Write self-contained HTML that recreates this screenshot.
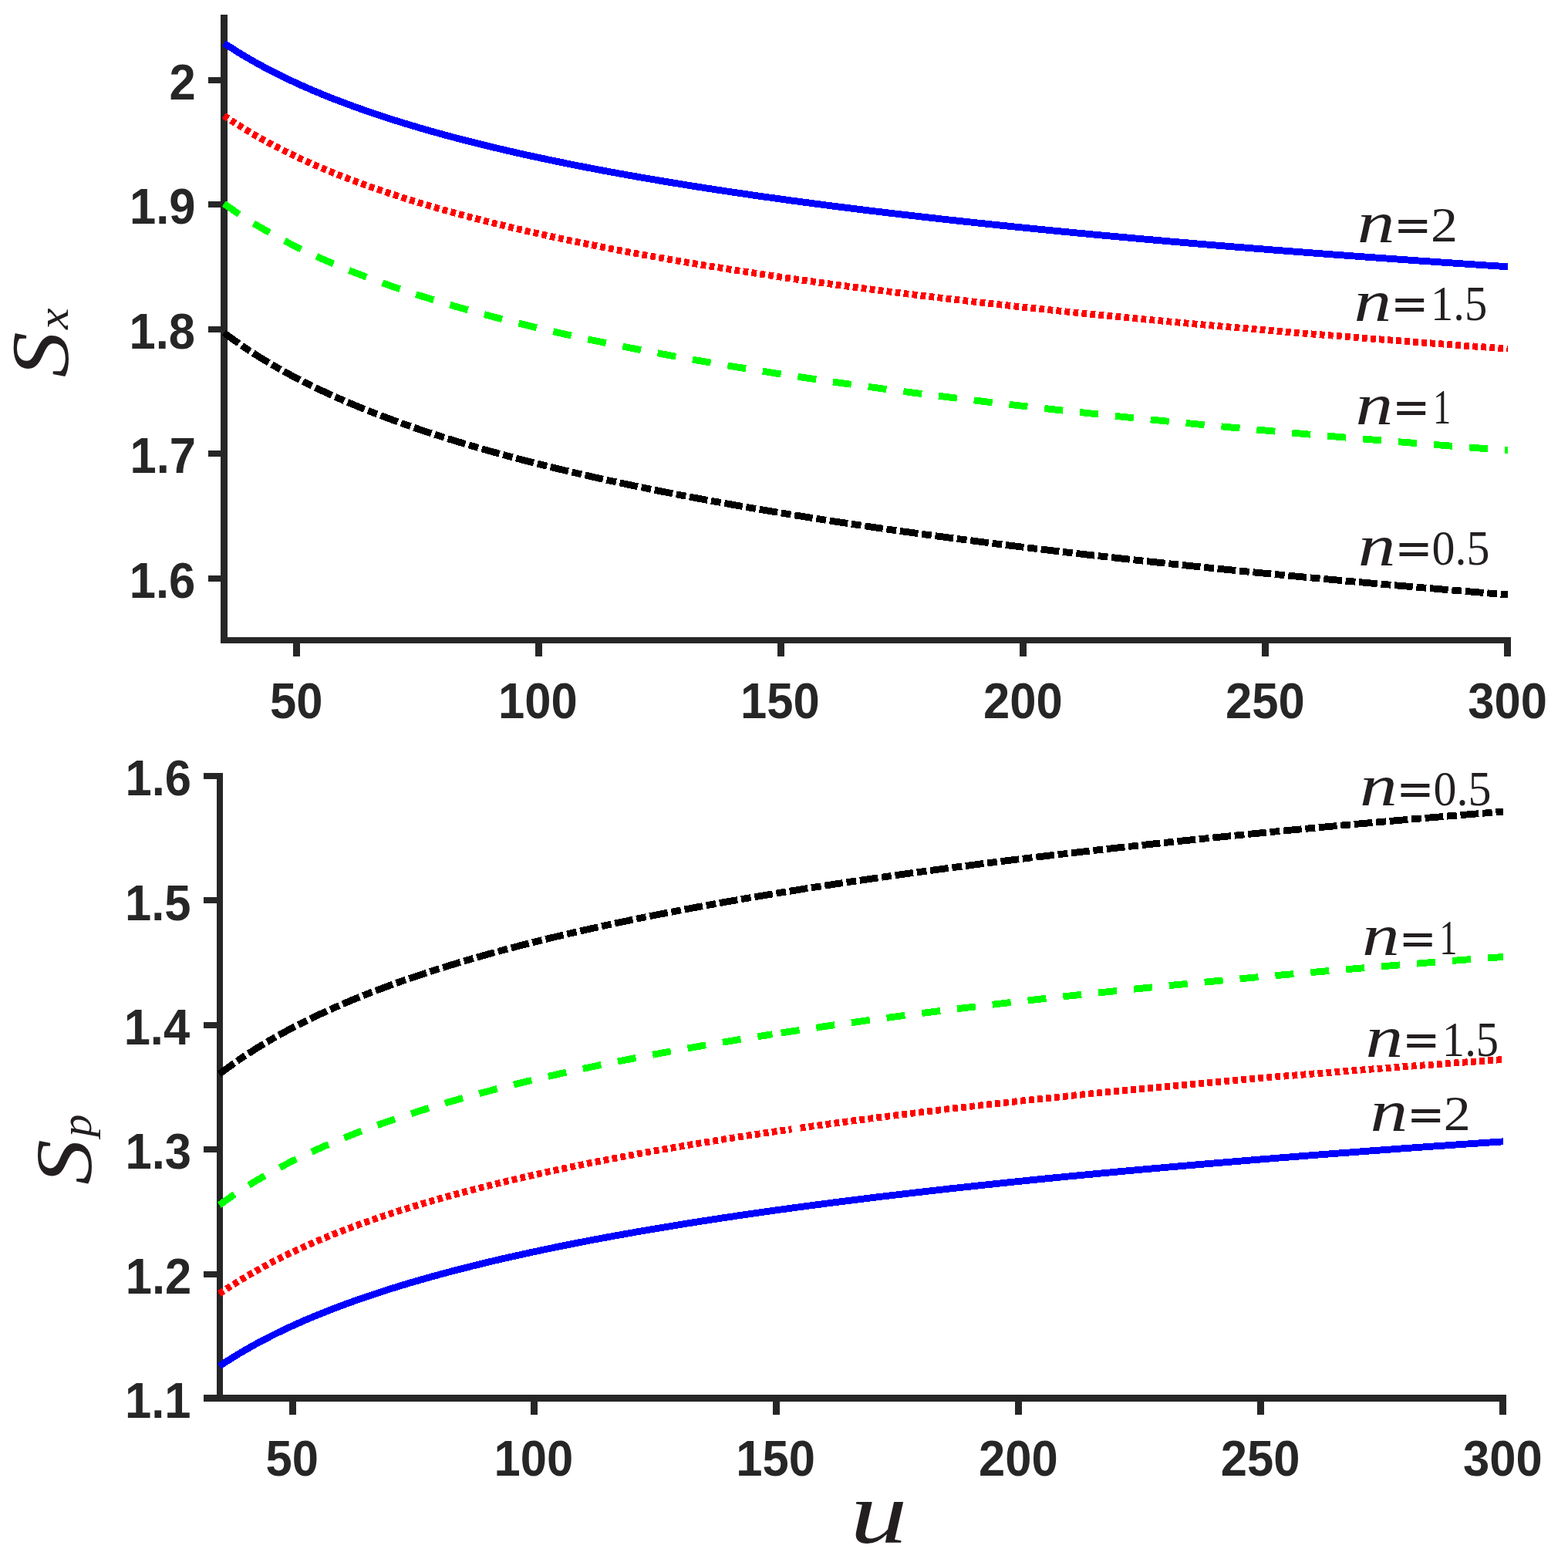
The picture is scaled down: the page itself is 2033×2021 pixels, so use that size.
<!DOCTYPE html>
<html><head><meta charset="utf-8"><title>Sx and Sp versus u</title>
<style>html,body{margin:0;padding:0;background:#fff}svg{display:block}</style></head>
<body><svg xmlns="http://www.w3.org/2000/svg" width="2033" height="2021" viewBox="0 0 2033 2021">
<rect width="2033" height="2021" fill="#fff"/>
<g shape-rendering="crispEdges">
<rect x="286.00" y="19.00" width="9.00" height="815.00" fill="#262626"/>
<rect x="286.00" y="826.00" width="1673.00" height="8.00" fill="#262626"/>
<rect x="270.00" y="100.00" width="16.00" height="8.00" fill="#262626"/>
<rect x="270.00" y="261.00" width="16.00" height="8.00" fill="#262626"/>
<rect x="270.00" y="423.00" width="16.00" height="8.00" fill="#262626"/>
<rect x="270.00" y="584.00" width="16.00" height="8.00" fill="#262626"/>
<rect x="270.00" y="746.00" width="16.00" height="8.00" fill="#262626"/>
<rect x="380.00" y="834.00" width="9.00" height="17.00" fill="#262626"/>
<rect x="694.00" y="834.00" width="9.00" height="17.00" fill="#262626"/>
<rect x="1008.00" y="834.00" width="9.00" height="17.00" fill="#262626"/>
<rect x="1322.00" y="834.00" width="9.00" height="17.00" fill="#262626"/>
<rect x="1636.00" y="834.00" width="9.00" height="17.00" fill="#262626"/>
<rect x="1950.00" y="834.00" width="9.00" height="17.00" fill="#262626"/>
<rect x="281.00" y="1002.00" width="8.00" height="815.00" fill="#262626"/>
<rect x="264.00" y="1808.00" width="1689.00" height="9.00" fill="#262626"/>
<rect x="264.00" y="1002.00" width="17.00" height="8.00" fill="#262626"/>
<rect x="264.00" y="1163.00" width="17.00" height="8.00" fill="#262626"/>
<rect x="264.00" y="1325.00" width="17.00" height="8.00" fill="#262626"/>
<rect x="264.00" y="1486.00" width="17.00" height="8.00" fill="#262626"/>
<rect x="264.00" y="1648.00" width="17.00" height="8.00" fill="#262626"/>
<rect x="264.00" y="1809.00" width="17.00" height="8.00" fill="#262626"/>
<rect x="375.00" y="1817.00" width="9.00" height="17.00" fill="#262626"/>
<rect x="688.00" y="1817.00" width="9.00" height="17.00" fill="#262626"/>
<rect x="1002.00" y="1817.00" width="9.00" height="17.00" fill="#262626"/>
<rect x="1316.00" y="1817.00" width="9.00" height="17.00" fill="#262626"/>
<rect x="1630.00" y="1817.00" width="9.00" height="17.00" fill="#262626"/>
<rect x="1944.00" y="1817.00" width="9.00" height="17.00" fill="#262626"/>
<path d="M290.40,431.24 L293.74,433.76 L297.07,436.24 L300.41,438.69 L303.74,441.09 L307.08,443.46 L310.42,445.79 L313.75,448.09 L317.09,450.35 L320.42,452.59 L323.76,454.79 L327.09,456.96 L330.43,459.10 L333.77,461.21 L337.10,463.30 L340.44,465.35 L343.77,467.38 L347.11,469.38 L350.45,471.36 L353.78,473.32 L357.12,475.24 L360.45,477.15 L363.79,479.03 L367.13,480.89 L370.46,482.73 L373.80,484.54 L377.13,486.34 L380.47,488.11 L383.80,489.87 L387.14,491.60 L390.48,493.31 L393.81,495.01 L397.15,496.69 L400.48,498.35 L403.82,499.99 L407.16,501.61 L410.49,503.22 L413.83,504.81 L417.16,506.39 L420.50,507.95 L423.83,509.49 L427.17,511.02 L430.51,512.53 L433.84,514.03 L437.18,515.51 L440.51,516.98 L443.85,518.44 L447.19,519.88 L450.52,521.31 L453.86,522.72 L457.19,524.13 L460.53,525.51 L463.87,526.89 L467.20,528.26 L470.54,529.61 L473.87,530.95 L477.21,532.28 L480.54,533.60 L483.88,534.90 L487.22,536.20 L490.55,537.48 L493.89,538.76 L497.22,540.02 L500.56,541.27 L503.90,542.51 L507.23,543.75 L510.57,544.97 L513.90,546.18 L517.24,547.39 L520.58,548.58 L523.91,549.76 L527.25,550.94 L530.58,552.11 L533.92,553.26 L537.25,554.41 L540.59,555.55 L543.93,556.69 L547.26,557.81 L550.60,558.92 L553.93,560.03 L557.27,561.13 L560.61,562.22 L563.94,563.30 L567.28,564.38 L570.61,565.45 L573.95,566.51 L577.28,567.56 L580.62,568.61 L583.96,569.65 L587.29,570.68 L590.63,571.70 L593.96,572.72 L597.30,573.73 L600.64,574.74 L603.97,575.73 L607.31,576.72 L610.64,577.71 L613.98,578.69 L617.32,579.66 L620.65,580.62 L623.99,581.58 L627.32,582.54 L630.66,583.49 L633.99,584.43 L637.33,585.36 L640.67,586.29 L644.00,587.22 L647.34,588.14 L650.67,589.05 L654.01,589.96 L657.35,590.86 L660.68,591.76 L664.02,592.65 L667.35,593.53 L670.69,594.42 L674.03,595.29 L677.36,596.16 L680.70,597.03 L684.03,597.89 L687.37,598.75 L690.70,599.60 L694.04,600.44 L697.38,601.29 L700.71,602.12 L704.05,602.96 L707.38,603.78 L710.72,604.61 L714.06,605.43 L717.39,606.24 L720.73,607.05 L724.06,607.86 L727.40,608.66 L730.74,609.45 L734.07,610.25 L737.41,611.04 L740.74,611.82 L744.08,612.60 L747.41,613.38 L750.75,614.15 L754.09,614.92 L757.42,615.68 L760.76,616.44 L764.09,617.20 L767.43,617.95 L770.77,618.70 L774.10,619.45 L777.44,620.19 L780.77,620.93 L784.11,621.67 L787.44,622.40 L790.78,623.12 L794.12,623.85 L797.45,624.57 L800.79,625.29 L804.12,626.00 L807.46,626.71 L810.80,627.42 L814.13,628.12 L817.47,628.82 L820.80,629.52 L824.14,630.21 L827.48,630.90 L830.81,631.59 L834.15,632.27 L837.48,632.96 L840.82,633.63 L844.15,634.31 L847.49,634.98 L850.83,635.65 L854.16,636.32 L857.50,636.98 L860.83,637.64 L864.17,638.30 L867.51,638.95 L870.84,639.60 L874.18,640.25 L877.51,640.90 L880.85,641.54 L884.19,642.18 L887.52,642.82 L890.86,643.45 L894.19,644.08 L897.53,644.71 L900.86,645.34 L904.20,645.97 L907.54,646.59 L910.87,647.21 L914.21,647.82 L917.54,648.44 L920.88,649.05 L924.22,649.66 L927.55,650.26 L930.89,650.87 L934.22,651.47 L937.56,652.07 L940.89,652.67 L944.23,653.26 L947.57,653.85 L950.90,654.44 L954.24,655.03 L957.57,655.61 L960.91,656.20 L964.25,656.78 L967.58,657.36 L970.92,657.93 L974.25,658.51 L977.59,659.08 L980.93,659.65 L984.26,660.21 L987.60,660.78 L990.93,661.34 L994.27,661.90 L997.60,662.46 L1000.94,663.02 L1004.28,663.57 L1007.61,664.13 L1010.95,664.68 L1014.28,665.22 L1017.62,665.77 L1020.96,666.32 L1024.29,666.86 L1027.63,667.40 L1030.96,667.94 L1034.30,668.47 L1037.64,669.01 L1040.97,669.54 L1044.31,670.07 L1047.64,670.60 L1050.98,671.13 L1054.31,671.65 L1057.65,672.18 L1060.99,672.70 L1064.32,673.22 L1067.66,673.74 L1070.99,674.25 L1074.33,674.77 L1077.67,675.28 L1081.00,675.79 L1084.34,676.30 L1087.67,676.81 L1091.01,677.31 L1094.35,677.82 L1097.68,678.32 L1101.02,678.82 L1104.35,679.32 L1107.69,679.81 L1111.02,680.31 L1114.36,680.80 L1117.70,681.29 L1121.03,681.79 L1124.37,682.27 L1127.70,682.76 L1131.04,683.25 L1134.38,683.73 L1137.71,684.21 L1141.05,684.69 L1144.38,685.17 L1147.72,685.65 L1151.05,686.13 L1154.39,686.60 L1157.73,687.08 L1161.06,687.55 L1164.40,688.02 L1167.73,688.49 L1171.07,688.96 L1174.41,689.42 L1177.74,689.89 L1181.08,690.35 L1184.41,690.81 L1187.75,691.27 L1191.09,691.73 L1194.42,692.19 L1197.76,692.64 L1201.09,693.10 L1204.43,693.55 L1207.76,694.00 L1211.10,694.45 L1214.44,694.90 L1217.77,695.35 L1221.11,695.79 L1224.44,696.24 L1227.78,696.68 L1231.12,697.12 L1234.45,697.57 L1237.79,698.01 L1241.12,698.44 L1244.46,698.88 L1247.80,699.32 L1251.13,699.75 L1254.47,700.18 L1257.80,700.62 L1261.14,701.05 L1264.47,701.48 L1267.81,701.90 L1271.15,702.33 L1274.48,702.76 L1277.82,703.18 L1281.15,703.60 L1284.49,704.03 L1287.83,704.45 L1291.16,704.87 L1294.50,705.29 L1297.83,705.70 L1301.17,706.12 L1304.51,706.53 L1307.84,706.95 L1311.18,707.36 L1314.51,707.77 L1317.85,708.18 L1321.18,708.59 L1324.52,709.00 L1327.86,709.41 L1331.19,709.81 L1334.53,710.22 L1337.86,710.62 L1341.20,711.02 L1344.54,711.42 L1347.87,711.82 L1351.21,712.22 L1354.54,712.62 L1357.88,713.02 L1361.21,713.42 L1364.55,713.81 L1367.89,714.20 L1371.22,714.60 L1374.56,714.99 L1377.89,715.38 L1381.23,715.77 L1384.57,716.16 L1387.90,716.55 L1391.24,716.93 L1394.57,717.32 L1397.91,717.70 L1401.25,718.09 L1404.58,718.47 L1407.92,718.85 L1411.25,719.23 L1414.59,719.61 L1417.92,719.99 L1421.26,720.37 L1424.60,720.75 L1427.93,721.12 L1431.27,721.50 L1434.60,721.87 L1437.94,722.24 L1441.28,722.62 L1444.61,722.99 L1447.95,723.36 L1451.28,723.73 L1454.62,724.10 L1457.96,724.46 L1461.29,724.83 L1464.63,725.19 L1467.96,725.56 L1471.30,725.92 L1474.63,726.29 L1477.97,726.65 L1481.31,727.01 L1484.64,727.37 L1487.98,727.73 L1491.31,728.09 L1494.65,728.45 L1497.99,728.80 L1501.32,729.16 L1504.66,729.51 L1507.99,729.87 L1511.33,730.22 L1514.66,730.57 L1518.00,730.93 L1521.34,731.28 L1524.67,731.63 L1528.01,731.98 L1531.34,732.32 L1534.68,732.67 L1538.02,733.02 L1541.35,733.36 L1544.69,733.71 L1548.02,734.05 L1551.36,734.40 L1554.70,734.74 L1558.03,735.08 L1561.37,735.42 L1564.70,735.76 L1568.04,736.10 L1571.37,736.44 L1574.71,736.78 L1578.05,737.12 L1581.38,737.45 L1584.72,737.79 L1588.05,738.12 L1591.39,738.46 L1594.73,738.79 L1598.06,739.13 L1601.40,739.46 L1604.73,739.79 L1608.07,740.12 L1611.41,740.45 L1614.74,740.78 L1618.08,741.11 L1621.41,741.43 L1624.75,741.76 L1628.08,742.09 L1631.42,742.41 L1634.76,742.74 L1638.09,743.06 L1641.43,743.38 L1644.76,743.71 L1648.10,744.03 L1651.44,744.35 L1654.77,744.67 L1658.11,744.99 L1661.44,745.31 L1664.78,745.63 L1668.12,745.94 L1671.45,746.26 L1674.79,746.58 L1678.12,746.89 L1681.46,747.21 L1684.79,747.52 L1688.13,747.84 L1691.47,748.15 L1694.80,748.46 L1698.14,748.77 L1701.47,749.08 L1704.81,749.39 L1708.15,749.70 L1711.48,750.01 L1714.82,750.32 L1718.15,750.63 L1721.49,750.93 L1724.82,751.24 L1728.16,751.55 L1731.50,751.85 L1734.83,752.16 L1738.17,752.46 L1741.50,752.76 L1744.84,753.07 L1748.18,753.37 L1751.51,753.67 L1754.85,753.97 L1758.18,754.27 L1761.52,754.57 L1764.86,754.87 L1768.19,755.17 L1771.53,755.47 L1774.86,755.76 L1778.20,756.06 L1781.53,756.35 L1784.87,756.65 L1788.21,756.94 L1791.54,757.24 L1794.88,757.53 L1798.21,757.83 L1801.55,758.12 L1804.89,758.41 L1808.22,758.70 L1811.56,758.99 L1814.89,759.28 L1818.23,759.57 L1821.57,759.86 L1824.90,760.15 L1828.24,760.44 L1831.57,760.72 L1834.91,761.01 L1838.24,761.30 L1841.58,761.58 L1844.92,761.87 L1848.25,762.15 L1851.59,762.44 L1854.92,762.72 L1858.26,763.00 L1861.60,763.28 L1864.93,763.57 L1868.27,763.85 L1871.60,764.13 L1874.94,764.41 L1878.27,764.69 L1881.61,764.97 L1884.95,765.25 L1888.28,765.52 L1891.62,765.80 L1894.95,766.08 L1898.29,766.35 L1901.63,766.63 L1904.96,766.91 L1908.30,767.18 L1911.63,767.46 L1914.97,767.73 L1918.31,768.00 L1921.64,768.28 L1924.98,768.55 L1928.31,768.82 L1931.65,769.09 L1934.98,769.36 L1938.32,769.63 L1941.66,769.90 L1944.99,770.17 L1948.33,770.44 L1951.66,770.71 L1955.00,770.98" fill="none" stroke="#000000" stroke-width="8.9" stroke-linejoin="round" stroke-dasharray="23.8,4.74,12.8,4.74"/>
<path d="M290.40,263.97 L293.74,266.36 L297.07,268.73 L300.41,271.05 L303.74,273.34 L307.08,275.59 L310.42,277.81 L313.75,280.00 L317.09,282.15 L320.42,284.28 L323.76,286.37 L327.09,288.44 L330.43,290.47 L333.77,292.48 L337.10,294.46 L340.44,296.42 L343.77,298.34 L347.11,300.25 L350.45,302.13 L353.78,303.98 L357.12,305.82 L360.45,307.63 L363.79,309.41 L367.13,311.18 L370.46,312.93 L373.80,314.65 L377.13,316.36 L380.47,318.04 L383.80,319.71 L387.14,321.35 L390.48,322.98 L393.81,324.59 L397.15,326.18 L400.48,327.76 L403.82,329.32 L407.16,330.86 L410.49,332.38 L413.83,333.89 L417.16,335.39 L420.50,336.87 L423.83,338.33 L427.17,339.78 L430.51,341.21 L433.84,342.63 L437.18,344.04 L440.51,345.43 L443.85,346.81 L447.19,348.18 L450.52,349.53 L453.86,350.87 L457.19,352.20 L460.53,353.52 L463.87,354.82 L467.20,356.12 L470.54,357.40 L473.87,358.67 L477.21,359.93 L480.54,361.18 L483.88,362.41 L487.22,363.64 L490.55,364.86 L493.89,366.06 L497.22,367.26 L500.56,368.44 L503.90,369.62 L507.23,370.79 L510.57,371.94 L513.90,373.09 L517.24,374.23 L520.58,375.36 L523.91,376.48 L527.25,377.59 L530.58,378.70 L533.92,379.79 L537.25,380.88 L540.59,381.96 L543.93,383.03 L547.26,384.09 L550.60,385.14 L553.93,386.19 L557.27,387.23 L560.61,388.26 L563.94,389.28 L567.28,390.30 L570.61,391.31 L573.95,392.31 L577.28,393.31 L580.62,394.29 L583.96,395.27 L587.29,396.25 L590.63,397.22 L593.96,398.18 L597.30,399.13 L600.64,400.08 L603.97,401.02 L607.31,401.96 L610.64,402.89 L613.98,403.81 L617.32,404.73 L620.65,405.64 L623.99,406.55 L627.32,407.45 L630.66,408.34 L633.99,409.23 L637.33,410.11 L640.67,410.99 L644.00,411.86 L647.34,412.73 L650.67,413.59 L654.01,414.45 L657.35,415.30 L660.68,416.15 L664.02,416.99 L667.35,417.82 L670.69,418.65 L674.03,419.48 L677.36,420.30 L680.70,421.12 L684.03,421.93 L687.37,422.74 L690.70,423.54 L694.04,424.34 L697.38,425.13 L700.71,425.92 L704.05,426.70 L707.38,427.48 L710.72,428.26 L714.06,429.03 L717.39,429.80 L720.73,430.56 L724.06,431.32 L727.40,432.07 L730.74,432.82 L734.07,433.57 L737.41,434.31 L740.74,435.05 L744.08,435.79 L747.41,436.52 L750.75,437.25 L754.09,437.97 L757.42,438.69 L760.76,439.41 L764.09,440.12 L767.43,440.83 L770.77,441.53 L774.10,442.23 L777.44,442.93 L780.77,443.63 L784.11,444.32 L787.44,445.01 L790.78,445.69 L794.12,446.37 L797.45,447.05 L800.79,447.72 L804.12,448.39 L807.46,449.06 L810.80,449.73 L814.13,450.39 L817.47,451.05 L820.80,451.70 L824.14,452.36 L827.48,453.00 L830.81,453.65 L834.15,454.29 L837.48,454.93 L840.82,455.57 L844.15,456.21 L847.49,456.84 L850.83,457.47 L854.16,458.09 L857.50,458.71 L860.83,459.33 L864.17,459.95 L867.51,460.57 L870.84,461.18 L874.18,461.79 L877.51,462.39 L880.85,463.00 L884.19,463.60 L887.52,464.20 L890.86,464.79 L894.19,465.39 L897.53,465.98 L900.86,466.57 L904.20,467.15 L907.54,467.74 L910.87,468.32 L914.21,468.90 L917.54,469.47 L920.88,470.05 L924.22,470.62 L927.55,471.19 L930.89,471.75 L934.22,472.32 L937.56,472.88 L940.89,473.44 L944.23,474.00 L947.57,474.55 L950.90,475.11 L954.24,475.66 L957.57,476.21 L960.91,476.75 L964.25,477.30 L967.58,477.84 L970.92,478.38 L974.25,478.92 L977.59,479.45 L980.93,479.99 L984.26,480.52 L987.60,481.05 L990.93,481.58 L994.27,482.10 L997.60,482.63 L1000.94,483.15 L1004.28,483.67 L1007.61,484.18 L1010.95,484.70 L1014.28,485.21 L1017.62,485.73 L1020.96,486.24 L1024.29,486.74 L1027.63,487.25 L1030.96,487.76 L1034.30,488.26 L1037.64,488.76 L1040.97,489.26 L1044.31,489.75 L1047.64,490.25 L1050.98,490.74 L1054.31,491.24 L1057.65,491.73 L1060.99,492.21 L1064.32,492.70 L1067.66,493.18 L1070.99,493.67 L1074.33,494.15 L1077.67,494.63 L1081.00,495.11 L1084.34,495.58 L1087.67,496.06 L1091.01,496.53 L1094.35,497.00 L1097.68,497.47 L1101.02,497.94 L1104.35,498.41 L1107.69,498.87 L1111.02,499.34 L1114.36,499.80 L1117.70,500.26 L1121.03,500.72 L1124.37,501.17 L1127.70,501.63 L1131.04,502.08 L1134.38,502.54 L1137.71,502.99 L1141.05,503.44 L1144.38,503.89 L1147.72,504.33 L1151.05,504.78 L1154.39,505.22 L1157.73,505.66 L1161.06,506.11 L1164.40,506.55 L1167.73,506.98 L1171.07,507.42 L1174.41,507.86 L1177.74,508.29 L1181.08,508.72 L1184.41,509.15 L1187.75,509.58 L1191.09,510.01 L1194.42,510.44 L1197.76,510.86 L1201.09,511.29 L1204.43,511.71 L1207.76,512.13 L1211.10,512.55 L1214.44,512.97 L1217.77,513.39 L1221.11,513.81 L1224.44,514.22 L1227.78,514.64 L1231.12,515.05 L1234.45,515.46 L1237.79,515.87 L1241.12,516.28 L1244.46,516.69 L1247.80,517.10 L1251.13,517.50 L1254.47,517.91 L1257.80,518.31 L1261.14,518.71 L1264.47,519.11 L1267.81,519.51 L1271.15,519.91 L1274.48,520.31 L1277.82,520.70 L1281.15,521.10 L1284.49,521.49 L1287.83,521.89 L1291.16,522.28 L1294.50,522.67 L1297.83,523.06 L1301.17,523.45 L1304.51,523.83 L1307.84,524.22 L1311.18,524.60 L1314.51,524.99 L1317.85,525.37 L1321.18,525.75 L1324.52,526.13 L1327.86,526.51 L1331.19,526.89 L1334.53,527.27 L1337.86,527.64 L1341.20,528.02 L1344.54,528.39 L1347.87,528.77 L1351.21,529.14 L1354.54,529.51 L1357.88,529.88 L1361.21,530.25 L1364.55,530.62 L1367.89,530.98 L1371.22,531.35 L1374.56,531.72 L1377.89,532.08 L1381.23,532.44 L1384.57,532.81 L1387.90,533.17 L1391.24,533.53 L1394.57,533.89 L1397.91,534.25 L1401.25,534.60 L1404.58,534.96 L1407.92,535.31 L1411.25,535.67 L1414.59,536.02 L1417.92,536.38 L1421.26,536.73 L1424.60,537.08 L1427.93,537.43 L1431.27,537.78 L1434.60,538.13 L1437.94,538.47 L1441.28,538.82 L1444.61,539.17 L1447.95,539.51 L1451.28,539.85 L1454.62,540.20 L1457.96,540.54 L1461.29,540.88 L1464.63,541.22 L1467.96,541.56 L1471.30,541.90 L1474.63,542.24 L1477.97,542.57 L1481.31,542.91 L1484.64,543.25 L1487.98,543.58 L1491.31,543.91 L1494.65,544.25 L1497.99,544.58 L1501.32,544.91 L1504.66,545.24 L1507.99,545.57 L1511.33,545.90 L1514.66,546.23 L1518.00,546.55 L1521.34,546.88 L1524.67,547.21 L1528.01,547.53 L1531.34,547.85 L1534.68,548.18 L1538.02,548.50 L1541.35,548.82 L1544.69,549.14 L1548.02,549.46 L1551.36,549.78 L1554.70,550.10 L1558.03,550.42 L1561.37,550.74 L1564.70,551.05 L1568.04,551.37 L1571.37,551.68 L1574.71,552.00 L1578.05,552.31 L1581.38,552.62 L1584.72,552.94 L1588.05,553.25 L1591.39,553.56 L1594.73,553.87 L1598.06,554.18 L1601.40,554.48 L1604.73,554.79 L1608.07,555.10 L1611.41,555.41 L1614.74,555.71 L1618.08,556.02 L1621.41,556.32 L1624.75,556.62 L1628.08,556.93 L1631.42,557.23 L1634.76,557.53 L1638.09,557.83 L1641.43,558.13 L1644.76,558.43 L1648.10,558.73 L1651.44,559.03 L1654.77,559.33 L1658.11,559.62 L1661.44,559.92 L1664.78,560.21 L1668.12,560.51 L1671.45,560.80 L1674.79,561.10 L1678.12,561.39 L1681.46,561.68 L1684.79,561.97 L1688.13,562.26 L1691.47,562.56 L1694.80,562.85 L1698.14,563.13 L1701.47,563.42 L1704.81,563.71 L1708.15,564.00 L1711.48,564.29 L1714.82,564.57 L1718.15,564.86 L1721.49,565.14 L1724.82,565.43 L1728.16,565.71 L1731.50,565.99 L1734.83,566.28 L1738.17,566.56 L1741.50,566.84 L1744.84,567.12 L1748.18,567.40 L1751.51,567.68 L1754.85,567.96 L1758.18,568.24 L1761.52,568.51 L1764.86,568.79 L1768.19,569.07 L1771.53,569.34 L1774.86,569.62 L1778.20,569.89 L1781.53,570.17 L1784.87,570.44 L1788.21,570.72 L1791.54,570.99 L1794.88,571.26 L1798.21,571.53 L1801.55,571.80 L1804.89,572.07 L1808.22,572.34 L1811.56,572.61 L1814.89,572.88 L1818.23,573.15 L1821.57,573.42 L1824.90,573.69 L1828.24,573.95 L1831.57,574.22 L1834.91,574.48 L1838.24,574.75 L1841.58,575.01 L1844.92,575.28 L1848.25,575.54 L1851.59,575.80 L1854.92,576.07 L1858.26,576.33 L1861.60,576.59 L1864.93,576.85 L1868.27,577.11 L1871.60,577.37 L1874.94,577.63 L1878.27,577.89 L1881.61,578.15 L1884.95,578.41 L1888.28,578.67 L1891.62,578.92 L1894.95,579.18 L1898.29,579.43 L1901.63,579.69 L1904.96,579.95 L1908.30,580.20 L1911.63,580.45 L1914.97,580.71 L1918.31,580.96 L1921.64,581.21 L1924.98,581.47 L1928.31,581.72 L1931.65,581.97 L1934.98,582.22 L1938.32,582.47 L1941.66,582.72 L1944.99,582.97 L1948.33,583.22 L1951.66,583.47 L1955.00,583.71" fill="none" stroke="#00ff00" stroke-width="8.9" stroke-linejoin="round" stroke-dasharray="24.1,21.98"/>
<path d="M290.40,149.80 L293.74,152.09 L297.07,154.35 L300.41,156.56 L303.74,158.75 L307.08,160.90 L310.42,163.02 L313.75,165.10 L317.09,167.16 L320.42,169.19 L323.76,171.18 L327.09,173.15 L330.43,175.09 L333.77,177.01 L337.10,178.89 L340.44,180.76 L343.77,182.59 L347.11,184.41 L350.45,186.20 L353.78,187.96 L357.12,189.71 L360.45,191.43 L363.79,193.13 L367.13,194.81 L370.46,196.47 L373.80,198.11 L377.13,199.74 L380.47,201.34 L383.80,202.92 L387.14,204.49 L390.48,206.03 L393.81,207.56 L397.15,209.08 L400.48,210.57 L403.82,212.06 L407.16,213.52 L410.49,214.97 L413.83,216.40 L417.16,217.82 L420.50,219.23 L423.83,220.62 L427.17,221.99 L430.51,223.35 L433.84,224.70 L437.18,226.04 L440.51,227.36 L443.85,228.67 L447.19,229.96 L450.52,231.25 L453.86,232.52 L457.19,233.78 L460.53,235.03 L463.87,236.27 L467.20,237.49 L470.54,238.71 L473.87,239.91 L477.21,241.11 L480.54,242.29 L483.88,243.46 L487.22,244.62 L490.55,245.78 L493.89,246.92 L497.22,248.05 L500.56,249.17 L503.90,250.29 L507.23,251.39 L510.57,252.49 L513.90,253.58 L517.24,254.66 L520.58,255.72 L523.91,256.79 L527.25,257.84 L530.58,258.88 L533.92,259.92 L537.25,260.95 L540.59,261.97 L543.93,262.98 L547.26,263.99 L550.60,264.98 L553.93,265.98 L557.27,266.96 L560.61,267.93 L563.94,268.90 L567.28,269.86 L570.61,270.82 L573.95,271.77 L577.28,272.71 L580.62,273.64 L583.96,274.57 L587.29,275.49 L590.63,276.41 L593.96,277.32 L597.30,278.22 L600.64,279.12 L603.97,280.01 L607.31,280.89 L610.64,281.77 L613.98,282.64 L617.32,283.51 L620.65,284.37 L623.99,285.23 L627.32,286.08 L630.66,286.92 L633.99,287.76 L637.33,288.60 L640.67,289.43 L644.00,290.25 L647.34,291.07 L650.67,291.88 L654.01,292.69 L657.35,293.50 L660.68,294.30 L664.02,295.09 L667.35,295.88 L670.69,296.66 L674.03,297.44 L677.36,298.22 L680.70,298.99 L684.03,299.76 L687.37,300.52 L690.70,301.28 L694.04,302.03 L697.38,302.78 L700.71,303.52 L704.05,304.26 L707.38,305.00 L710.72,305.73 L714.06,306.46 L717.39,307.18 L720.73,307.90 L724.06,308.62 L727.40,309.33 L730.74,310.04 L734.07,310.75 L737.41,311.45 L740.74,312.14 L744.08,312.84 L747.41,313.53 L750.75,314.21 L754.09,314.90 L757.42,315.57 L760.76,316.25 L764.09,316.92 L767.43,317.59 L770.77,318.26 L774.10,318.92 L777.44,319.58 L780.77,320.23 L784.11,320.88 L787.44,321.53 L790.78,322.18 L794.12,322.82 L797.45,323.46 L800.79,324.09 L804.12,324.73 L807.46,325.36 L810.80,325.98 L814.13,326.61 L817.47,327.23 L820.80,327.85 L824.14,328.46 L827.48,329.07 L830.81,329.68 L834.15,330.29 L837.48,330.89 L840.82,331.49 L844.15,332.09 L847.49,332.69 L850.83,333.28 L854.16,333.87 L857.50,334.46 L860.83,335.04 L864.17,335.62 L867.51,336.20 L870.84,336.78 L874.18,337.35 L877.51,337.92 L880.85,338.49 L884.19,339.06 L887.52,339.62 L890.86,340.19 L894.19,340.75 L897.53,341.30 L900.86,341.86 L904.20,342.41 L907.54,342.96 L910.87,343.51 L914.21,344.05 L917.54,344.59 L920.88,345.13 L924.22,345.67 L927.55,346.21 L930.89,346.74 L934.22,347.27 L937.56,347.80 L940.89,348.33 L944.23,348.86 L947.57,349.38 L950.90,349.90 L954.24,350.42 L957.57,350.94 L960.91,351.45 L964.25,351.96 L967.58,352.47 L970.92,352.98 L974.25,353.49 L977.59,353.99 L980.93,354.50 L984.26,355.00 L987.60,355.50 L990.93,355.99 L994.27,356.49 L997.60,356.98 L1000.94,357.47 L1004.28,357.96 L1007.61,358.45 L1010.95,358.94 L1014.28,359.42 L1017.62,359.90 L1020.96,360.38 L1024.29,360.86 L1027.63,361.34 L1030.96,361.81 L1034.30,362.28 L1037.64,362.76 L1040.97,363.23 L1044.31,363.69 L1047.64,364.16 L1050.98,364.62 L1054.31,365.09 L1057.65,365.55 L1060.99,366.01 L1064.32,366.47 L1067.66,366.92 L1070.99,367.38 L1074.33,367.83 L1077.67,368.28 L1081.00,368.73 L1084.34,369.18 L1087.67,369.63 L1091.01,370.07 L1094.35,370.52 L1097.68,370.96 L1101.02,371.40 L1104.35,371.84 L1107.69,372.28 L1111.02,372.71 L1114.36,373.15 L1117.70,373.58 L1121.03,374.01 L1124.37,374.44 L1127.70,374.87 L1131.04,375.30 L1134.38,375.72 L1137.71,376.15 L1141.05,376.57 L1144.38,376.99 L1147.72,377.41 L1151.05,377.83 L1154.39,378.25 L1157.73,378.67 L1161.06,379.08 L1164.40,379.50 L1167.73,379.91 L1171.07,380.32 L1174.41,380.73 L1177.74,381.14 L1181.08,381.54 L1184.41,381.95 L1187.75,382.35 L1191.09,382.76 L1194.42,383.16 L1197.76,383.56 L1201.09,383.96 L1204.43,384.36 L1207.76,384.76 L1211.10,385.15 L1214.44,385.55 L1217.77,385.94 L1221.11,386.33 L1224.44,386.72 L1227.78,387.11 L1231.12,387.50 L1234.45,387.89 L1237.79,388.27 L1241.12,388.66 L1244.46,389.04 L1247.80,389.42 L1251.13,389.81 L1254.47,390.19 L1257.80,390.57 L1261.14,390.94 L1264.47,391.32 L1267.81,391.70 L1271.15,392.07 L1274.48,392.45 L1277.82,392.82 L1281.15,393.19 L1284.49,393.56 L1287.83,393.93 L1291.16,394.30 L1294.50,394.66 L1297.83,395.03 L1301.17,395.40 L1304.51,395.76 L1307.84,396.12 L1311.18,396.49 L1314.51,396.85 L1317.85,397.21 L1321.18,397.56 L1324.52,397.92 L1327.86,398.28 L1331.19,398.64 L1334.53,398.99 L1337.86,399.34 L1341.20,399.70 L1344.54,400.05 L1347.87,400.40 L1351.21,400.75 L1354.54,401.10 L1357.88,401.45 L1361.21,401.80 L1364.55,402.14 L1367.89,402.49 L1371.22,402.83 L1374.56,403.17 L1377.89,403.52 L1381.23,403.86 L1384.57,404.20 L1387.90,404.54 L1391.24,404.88 L1394.57,405.22 L1397.91,405.55 L1401.25,405.89 L1404.58,406.22 L1407.92,406.56 L1411.25,406.89 L1414.59,407.22 L1417.92,407.56 L1421.26,407.89 L1424.60,408.22 L1427.93,408.55 L1431.27,408.88 L1434.60,409.20 L1437.94,409.53 L1441.28,409.86 L1444.61,410.18 L1447.95,410.50 L1451.28,410.83 L1454.62,411.15 L1457.96,411.47 L1461.29,411.79 L1464.63,412.11 L1467.96,412.43 L1471.30,412.75 L1474.63,413.07 L1477.97,413.38 L1481.31,413.70 L1484.64,414.02 L1487.98,414.33 L1491.31,414.64 L1494.65,414.96 L1497.99,415.27 L1501.32,415.58 L1504.66,415.89 L1507.99,416.20 L1511.33,416.51 L1514.66,416.82 L1518.00,417.13 L1521.34,417.43 L1524.67,417.74 L1528.01,418.04 L1531.34,418.35 L1534.68,418.65 L1538.02,418.96 L1541.35,419.26 L1544.69,419.56 L1548.02,419.86 L1551.36,420.16 L1554.70,420.46 L1558.03,420.76 L1561.37,421.06 L1564.70,421.36 L1568.04,421.65 L1571.37,421.95 L1574.71,422.24 L1578.05,422.54 L1581.38,422.83 L1584.72,423.13 L1588.05,423.42 L1591.39,423.71 L1594.73,424.00 L1598.06,424.29 L1601.40,424.58 L1604.73,424.87 L1608.07,425.16 L1611.41,425.45 L1614.74,425.74 L1618.08,426.02 L1621.41,426.31 L1624.75,426.60 L1628.08,426.88 L1631.42,427.16 L1634.76,427.45 L1638.09,427.73 L1641.43,428.01 L1644.76,428.29 L1648.10,428.58 L1651.44,428.86 L1654.77,429.14 L1658.11,429.41 L1661.44,429.69 L1664.78,429.97 L1668.12,430.25 L1671.45,430.52 L1674.79,430.80 L1678.12,431.08 L1681.46,431.35 L1684.79,431.63 L1688.13,431.90 L1691.47,432.17 L1694.80,432.44 L1698.14,432.72 L1701.47,432.99 L1704.81,433.26 L1708.15,433.53 L1711.48,433.80 L1714.82,434.07 L1718.15,434.34 L1721.49,434.60 L1724.82,434.87 L1728.16,435.14 L1731.50,435.40 L1734.83,435.67 L1738.17,435.93 L1741.50,436.20 L1744.84,436.46 L1748.18,436.73 L1751.51,436.99 L1754.85,437.25 L1758.18,437.51 L1761.52,437.77 L1764.86,438.03 L1768.19,438.29 L1771.53,438.55 L1774.86,438.81 L1778.20,439.07 L1781.53,439.33 L1784.87,439.59 L1788.21,439.84 L1791.54,440.10 L1794.88,440.36 L1798.21,440.61 L1801.55,440.87 L1804.89,441.12 L1808.22,441.38 L1811.56,441.63 L1814.89,441.88 L1818.23,442.13 L1821.57,442.39 L1824.90,442.64 L1828.24,442.89 L1831.57,443.14 L1834.91,443.39 L1838.24,443.64 L1841.58,443.89 L1844.92,444.13 L1848.25,444.38 L1851.59,444.63 L1854.92,444.88 L1858.26,445.12 L1861.60,445.37 L1864.93,445.61 L1868.27,445.86 L1871.60,446.10 L1874.94,446.35 L1878.27,446.59 L1881.61,446.83 L1884.95,447.08 L1888.28,447.32 L1891.62,447.56 L1894.95,447.80 L1898.29,448.04 L1901.63,448.28 L1904.96,448.52 L1908.30,448.76 L1911.63,449.00 L1914.97,449.24 L1918.31,449.48 L1921.64,449.71 L1924.98,449.95 L1928.31,450.19 L1931.65,450.42 L1934.98,450.66 L1938.32,450.90 L1941.66,451.13 L1944.99,451.36 L1948.33,451.60 L1951.66,451.83 L1955.00,452.07" fill="none" stroke="#ff0000" stroke-width="8.9" stroke-linejoin="round" stroke-dasharray="6.8,4.26"/>
<path d="M290.40,55.84 L293.74,58.07 L297.07,60.27 L300.41,62.43 L303.74,64.56 L307.08,66.65 L310.42,68.71 L313.75,70.74 L317.09,72.74 L320.42,74.71 L323.76,76.66 L327.09,78.57 L330.43,80.46 L333.77,82.32 L337.10,84.16 L340.44,85.97 L343.77,87.75 L347.11,89.52 L350.45,91.26 L353.78,92.98 L357.12,94.67 L360.45,96.35 L363.79,98.00 L367.13,99.63 L370.46,101.25 L373.80,102.84 L377.13,104.42 L380.47,105.97 L383.80,107.51 L387.14,109.03 L390.48,110.53 L393.81,112.02 L397.15,113.49 L400.48,114.94 L403.82,116.38 L407.16,117.80 L410.49,119.21 L413.83,120.60 L417.16,121.98 L420.50,123.34 L423.83,124.69 L427.17,126.02 L430.51,127.34 L433.84,128.65 L437.18,129.95 L440.51,131.23 L443.85,132.50 L447.19,133.75 L450.52,135.00 L453.86,136.23 L457.19,137.45 L460.53,138.66 L463.87,139.86 L467.20,141.05 L470.54,142.23 L473.87,143.40 L477.21,144.55 L480.54,145.70 L483.88,146.83 L487.22,147.96 L490.55,149.07 L493.89,150.18 L497.22,151.28 L500.56,152.36 L503.90,153.44 L507.23,154.51 L510.57,155.57 L513.90,156.62 L517.24,157.67 L520.58,158.70 L523.91,159.73 L527.25,160.75 L530.58,161.76 L533.92,162.76 L537.25,163.75 L540.59,164.74 L543.93,165.72 L547.26,166.69 L550.60,167.66 L553.93,168.61 L557.27,169.56 L560.61,170.50 L563.94,171.44 L567.28,172.37 L570.61,173.29 L573.95,174.21 L577.28,175.12 L580.62,176.02 L583.96,176.91 L587.29,177.80 L590.63,178.69 L593.96,179.56 L597.30,180.44 L600.64,181.30 L603.97,182.16 L607.31,183.01 L610.64,183.86 L613.98,184.70 L617.32,185.54 L620.65,186.37 L623.99,187.20 L627.32,188.02 L630.66,188.83 L633.99,189.64 L637.33,190.44 L640.67,191.24 L644.00,192.04 L647.34,192.83 L650.67,193.61 L654.01,194.39 L657.35,195.16 L660.68,195.93 L664.02,196.70 L667.35,197.46 L670.69,198.21 L674.03,198.97 L677.36,199.71 L680.70,200.45 L684.03,201.19 L687.37,201.92 L690.70,202.65 L694.04,203.38 L697.38,204.10 L700.71,204.82 L704.05,205.53 L707.38,206.24 L710.72,206.94 L714.06,207.64 L717.39,208.34 L720.73,209.03 L724.06,209.72 L727.40,210.40 L730.74,211.08 L734.07,211.76 L737.41,212.43 L740.74,213.10 L744.08,213.77 L747.41,214.43 L750.75,215.09 L754.09,215.75 L757.42,216.40 L760.76,217.05 L764.09,217.69 L767.43,218.33 L770.77,218.97 L774.10,219.61 L777.44,220.24 L780.77,220.87 L784.11,221.49 L787.44,222.12 L790.78,222.74 L794.12,223.35 L797.45,223.96 L800.79,224.57 L804.12,225.18 L807.46,225.79 L810.80,226.39 L814.13,226.98 L817.47,227.58 L820.80,228.17 L824.14,228.76 L827.48,229.35 L830.81,229.93 L834.15,230.51 L837.48,231.09 L840.82,231.67 L844.15,232.24 L847.49,232.81 L850.83,233.38 L854.16,233.94 L857.50,234.50 L860.83,235.06 L864.17,235.62 L867.51,236.17 L870.84,236.73 L874.18,237.28 L877.51,237.82 L880.85,238.37 L884.19,238.91 L887.52,239.45 L890.86,239.99 L894.19,240.52 L897.53,241.05 L900.86,241.58 L904.20,242.11 L907.54,242.64 L910.87,243.16 L914.21,243.68 L917.54,244.20 L920.88,244.72 L924.22,245.23 L927.55,245.75 L930.89,246.26 L934.22,246.76 L937.56,247.27 L940.89,247.77 L944.23,248.27 L947.57,248.77 L950.90,249.27 L954.24,249.77 L957.57,250.26 L960.91,250.75 L964.25,251.24 L967.58,251.73 L970.92,252.21 L974.25,252.70 L977.59,253.18 L980.93,253.66 L984.26,254.14 L987.60,254.61 L990.93,255.09 L994.27,255.56 L997.60,256.03 L1000.94,256.50 L1004.28,256.96 L1007.61,257.43 L1010.95,257.89 L1014.28,258.35 L1017.62,258.81 L1020.96,259.27 L1024.29,259.73 L1027.63,260.18 L1030.96,260.63 L1034.30,261.08 L1037.64,261.53 L1040.97,261.98 L1044.31,262.43 L1047.64,262.87 L1050.98,263.31 L1054.31,263.75 L1057.65,264.19 L1060.99,264.63 L1064.32,265.07 L1067.66,265.50 L1070.99,265.93 L1074.33,266.36 L1077.67,266.79 L1081.00,267.22 L1084.34,267.65 L1087.67,268.07 L1091.01,268.50 L1094.35,268.92 L1097.68,269.34 L1101.02,269.76 L1104.35,270.18 L1107.69,270.59 L1111.02,271.01 L1114.36,271.42 L1117.70,271.83 L1121.03,272.24 L1124.37,272.65 L1127.70,273.06 L1131.04,273.47 L1134.38,273.87 L1137.71,274.27 L1141.05,274.68 L1144.38,275.08 L1147.72,275.48 L1151.05,275.87 L1154.39,276.27 L1157.73,276.67 L1161.06,277.06 L1164.40,277.45 L1167.73,277.84 L1171.07,278.23 L1174.41,278.62 L1177.74,279.01 L1181.08,279.40 L1184.41,279.78 L1187.75,280.17 L1191.09,280.55 L1194.42,280.93 L1197.76,281.31 L1201.09,281.69 L1204.43,282.07 L1207.76,282.44 L1211.10,282.82 L1214.44,283.19 L1217.77,283.57 L1221.11,283.94 L1224.44,284.31 L1227.78,284.68 L1231.12,285.05 L1234.45,285.41 L1237.79,285.78 L1241.12,286.14 L1244.46,286.51 L1247.80,286.87 L1251.13,287.23 L1254.47,287.59 L1257.80,287.95 L1261.14,288.31 L1264.47,288.67 L1267.81,289.02 L1271.15,289.38 L1274.48,289.73 L1277.82,290.08 L1281.15,290.43 L1284.49,290.79 L1287.83,291.14 L1291.16,291.48 L1294.50,291.83 L1297.83,292.18 L1301.17,292.52 L1304.51,292.87 L1307.84,293.21 L1311.18,293.55 L1314.51,293.89 L1317.85,294.24 L1321.18,294.57 L1324.52,294.91 L1327.86,295.25 L1331.19,295.59 L1334.53,295.92 L1337.86,296.26 L1341.20,296.59 L1344.54,296.92 L1347.87,297.26 L1351.21,297.59 L1354.54,297.92 L1357.88,298.25 L1361.21,298.57 L1364.55,298.90 L1367.89,299.23 L1371.22,299.55 L1374.56,299.88 L1377.89,300.20 L1381.23,300.52 L1384.57,300.84 L1387.90,301.16 L1391.24,301.48 L1394.57,301.80 L1397.91,302.12 L1401.25,302.44 L1404.58,302.76 L1407.92,303.07 L1411.25,303.39 L1414.59,303.70 L1417.92,304.01 L1421.26,304.33 L1424.60,304.64 L1427.93,304.95 L1431.27,305.26 L1434.60,305.57 L1437.94,305.87 L1441.28,306.18 L1444.61,306.49 L1447.95,306.79 L1451.28,307.10 L1454.62,307.40 L1457.96,307.71 L1461.29,308.01 L1464.63,308.31 L1467.96,308.61 L1471.30,308.91 L1474.63,309.21 L1477.97,309.51 L1481.31,309.81 L1484.64,310.10 L1487.98,310.40 L1491.31,310.69 L1494.65,310.99 L1497.99,311.28 L1501.32,311.58 L1504.66,311.87 L1507.99,312.16 L1511.33,312.45 L1514.66,312.74 L1518.00,313.03 L1521.34,313.32 L1524.67,313.61 L1528.01,313.90 L1531.34,314.18 L1534.68,314.47 L1538.02,314.75 L1541.35,315.04 L1544.69,315.32 L1548.02,315.61 L1551.36,315.89 L1554.70,316.17 L1558.03,316.45 L1561.37,316.73 L1564.70,317.01 L1568.04,317.29 L1571.37,317.57 L1574.71,317.85 L1578.05,318.12 L1581.38,318.40 L1584.72,318.68 L1588.05,318.95 L1591.39,319.23 L1594.73,319.50 L1598.06,319.77 L1601.40,320.05 L1604.73,320.32 L1608.07,320.59 L1611.41,320.86 L1614.74,321.13 L1618.08,321.40 L1621.41,321.67 L1624.75,321.93 L1628.08,322.20 L1631.42,322.47 L1634.76,322.73 L1638.09,323.00 L1641.43,323.27 L1644.76,323.53 L1648.10,323.79 L1651.44,324.06 L1654.77,324.32 L1658.11,324.58 L1661.44,324.84 L1664.78,325.10 L1668.12,325.36 L1671.45,325.62 L1674.79,325.88 L1678.12,326.14 L1681.46,326.40 L1684.79,326.66 L1688.13,326.91 L1691.47,327.17 L1694.80,327.42 L1698.14,327.68 L1701.47,327.93 L1704.81,328.19 L1708.15,328.44 L1711.48,328.69 L1714.82,328.94 L1718.15,329.20 L1721.49,329.45 L1724.82,329.70 L1728.16,329.95 L1731.50,330.20 L1734.83,330.45 L1738.17,330.69 L1741.50,330.94 L1744.84,331.19 L1748.18,331.44 L1751.51,331.68 L1754.85,331.93 L1758.18,332.17 L1761.52,332.42 L1764.86,332.66 L1768.19,332.90 L1771.53,333.15 L1774.86,333.39 L1778.20,333.63 L1781.53,333.87 L1784.87,334.11 L1788.21,334.35 L1791.54,334.59 L1794.88,334.83 L1798.21,335.07 L1801.55,335.31 L1804.89,335.55 L1808.22,335.79 L1811.56,336.02 L1814.89,336.26 L1818.23,336.50 L1821.57,336.73 L1824.90,336.97 L1828.24,337.20 L1831.57,337.43 L1834.91,337.67 L1838.24,337.90 L1841.58,338.13 L1844.92,338.37 L1848.25,338.60 L1851.59,338.83 L1854.92,339.06 L1858.26,339.29 L1861.60,339.52 L1864.93,339.75 L1868.27,339.98 L1871.60,340.21 L1874.94,340.43 L1878.27,340.66 L1881.61,340.89 L1884.95,341.12 L1888.28,341.34 L1891.62,341.57 L1894.95,341.79 L1898.29,342.02 L1901.63,342.24 L1904.96,342.46 L1908.30,342.69 L1911.63,342.91 L1914.97,343.13 L1918.31,343.36 L1921.64,343.58 L1924.98,343.80 L1928.31,344.02 L1931.65,344.24 L1934.98,344.46 L1938.32,344.68 L1941.66,344.90 L1944.99,345.12 L1948.33,345.34 L1951.66,345.55 L1955.00,345.77" fill="none" stroke="#0000ff" stroke-width="8.9" stroke-linejoin="round"/>
<path d="M284.20,1392.09 L287.54,1390.07 L290.87,1387.54 L294.21,1385.06 L297.55,1382.62 L300.88,1380.21 L304.22,1377.84 L307.55,1375.51 L310.89,1373.21 L314.23,1370.95 L317.56,1368.71 L320.90,1366.51 L324.24,1364.34 L327.57,1362.20 L330.91,1360.09 L334.24,1358.01 L337.58,1355.96 L340.92,1353.93 L344.25,1351.93 L347.59,1349.96 L350.93,1348.01 L354.26,1346.08 L357.60,1344.18 L360.93,1342.31 L364.27,1340.45 L367.61,1338.62 L370.94,1336.81 L374.28,1335.02 L377.62,1333.25 L380.95,1331.50 L384.29,1329.77 L387.62,1328.06 L390.96,1326.37 L394.30,1324.70 L397.63,1323.04 L400.97,1321.41 L404.31,1319.79 L407.64,1318.19 L410.98,1316.60 L414.31,1315.04 L417.65,1313.48 L420.99,1311.95 L424.32,1310.43 L427.66,1308.92 L431.00,1307.43 L434.33,1305.95 L437.67,1304.49 L441.00,1303.04 L444.34,1301.60 L447.68,1300.18 L451.01,1298.78 L454.35,1297.38 L457.69,1296.00 L461.02,1294.63 L464.36,1293.27 L467.69,1291.93 L471.03,1290.59 L474.37,1289.27 L477.70,1287.96 L481.04,1286.66 L484.38,1285.37 L487.71,1284.10 L491.05,1282.83 L494.39,1281.57 L497.72,1280.33 L501.06,1279.09 L504.39,1277.87 L507.73,1276.65 L511.07,1275.45 L514.40,1274.25 L517.74,1273.06 L521.08,1271.89 L524.41,1270.72 L527.75,1269.56 L531.08,1268.41 L534.42,1267.27 L537.76,1266.14 L541.09,1265.01 L544.43,1263.90 L547.77,1262.79 L551.10,1261.69 L554.44,1260.60 L557.77,1259.51 L561.11,1258.44 L564.45,1257.37 L567.78,1256.31 L571.12,1255.26 L574.46,1254.21 L577.79,1253.17 L581.13,1252.14 L584.46,1251.12 L587.80,1250.10 L591.14,1249.09 L594.47,1248.08 L597.81,1247.09 L601.15,1246.10 L604.48,1245.11 L607.82,1244.13 L611.15,1243.16 L614.49,1242.20 L617.83,1241.24 L621.16,1240.29 L624.50,1239.34 L627.84,1238.40 L631.17,1237.46 L634.51,1236.54 L637.84,1235.61 L641.18,1234.70 L644.52,1233.78 L647.85,1232.88 L651.19,1231.98 L654.53,1231.08 L657.86,1230.19 L661.20,1229.31 L664.54,1228.43 L667.87,1227.55 L671.21,1226.68 L674.54,1225.82 L677.88,1224.96 L681.22,1224.10 L684.55,1223.25 L687.89,1222.41 L691.23,1221.57 L694.56,1220.73 L697.90,1219.90 L701.23,1219.08 L704.57,1218.25 L707.91,1217.44 L711.24,1216.63 L714.58,1215.82 L717.92,1215.01 L721.25,1214.21 L724.59,1213.42 L727.92,1212.63 L731.26,1211.84 L734.60,1211.06 L737.93,1210.28 L741.27,1209.50 L744.61,1208.73 L747.94,1207.97 L751.28,1207.20 L754.61,1206.45 L757.95,1205.69 L761.29,1204.94 L764.62,1204.19 L767.96,1203.45 L771.30,1202.71 L774.63,1201.97 L777.97,1201.24 L781.30,1200.51 L784.64,1199.79 L787.98,1199.06 L791.31,1198.34 L794.65,1197.63 L797.99,1196.92 L801.32,1196.21 L804.66,1195.51 L807.99,1194.80 L811.33,1194.11 L814.67,1193.41 L818.00,1192.72 L821.34,1192.03 L824.68,1191.34 L828.01,1190.66 L831.35,1189.98 L834.68,1189.31 L838.02,1188.63 L841.36,1187.96 L844.69,1187.30 L848.03,1186.63 L851.37,1185.97 L854.70,1185.31 L858.04,1184.66 L861.38,1184.01 L864.71,1183.36 L868.05,1182.71 L871.38,1182.07 L874.72,1181.43 L878.06,1180.79 L881.39,1180.15 L884.73,1179.52 L888.07,1178.89 L891.40,1178.26 L894.74,1177.64 L898.07,1177.01 L901.41,1176.39 L904.75,1175.78 L908.08,1175.16 L911.42,1174.55 L914.76,1173.94 L918.09,1173.33 L921.43,1172.73 L924.76,1172.13 L928.10,1171.53 L931.44,1170.93 L934.77,1170.33 L938.11,1169.74 L941.45,1169.15 L944.78,1168.56 L948.12,1167.98 L951.45,1167.40 L954.79,1166.81 L958.13,1166.24 L961.46,1165.66 L964.80,1165.09 L968.14,1164.51 L971.47,1163.94 L974.81,1163.38 L978.14,1162.81 L981.48,1162.25 L984.82,1161.69 L988.15,1161.13 L991.49,1160.57 L994.83,1160.01 L998.16,1159.46 L1001.50,1158.91 L1004.83,1158.36 L1008.17,1157.82 L1011.51,1157.27 L1014.84,1156.73 L1018.18,1156.19 L1021.52,1155.65 L1024.85,1155.11 L1028.19,1154.58 L1031.53,1154.04 L1034.86,1153.51 L1038.20,1152.98 L1041.53,1152.46 L1044.87,1151.93 L1048.21,1151.41 L1051.54,1150.88 L1054.88,1150.36 L1058.22,1149.85 L1061.55,1149.33 L1064.89,1148.82 L1068.22,1148.30 L1071.56,1147.79 L1074.90,1147.28 L1078.23,1146.77 L1081.57,1146.27 L1084.91,1145.76 L1088.24,1145.26 L1091.58,1144.76 L1094.91,1144.26 L1098.25,1143.77 L1101.59,1143.27 L1104.92,1142.78 L1108.26,1142.28 L1111.60,1141.79 L1114.93,1141.30 L1118.27,1140.82 L1121.60,1140.33 L1124.94,1139.85 L1128.28,1139.36 L1131.61,1138.88 L1134.95,1138.40 L1138.29,1137.92 L1141.62,1137.45 L1144.96,1136.97 L1148.29,1136.50 L1151.63,1136.03 L1154.97,1135.55 L1158.30,1135.09 L1161.64,1134.62 L1164.98,1134.15 L1168.31,1133.69 L1171.65,1133.22 L1174.98,1132.76 L1178.32,1132.30 L1181.66,1131.84 L1184.99,1131.39 L1188.33,1130.93 L1191.67,1130.47 L1195.00,1130.02 L1198.34,1129.57 L1201.67,1129.12 L1205.01,1128.67 L1208.35,1128.22 L1211.68,1127.77 L1215.02,1127.33 L1218.36,1126.88 L1221.69,1126.44 L1225.03,1126.00 L1228.37,1125.56 L1231.70,1125.12 L1235.04,1124.68 L1238.37,1124.25 L1241.71,1123.81 L1245.05,1123.38 L1248.38,1122.95 L1251.72,1122.52 L1255.06,1122.09 L1258.39,1121.66 L1261.73,1121.23 L1265.06,1120.80 L1268.40,1120.38 L1271.74,1119.96 L1275.07,1119.53 L1278.41,1119.11 L1281.75,1118.69 L1285.08,1118.27 L1288.42,1117.86 L1291.75,1117.44 L1295.09,1117.02 L1298.43,1116.61 L1301.76,1116.20 L1305.10,1115.78 L1308.44,1115.37 L1311.77,1114.96 L1315.11,1114.55 L1318.44,1114.15 L1321.78,1113.74 L1325.12,1113.34 L1328.45,1112.93 L1331.79,1112.53 L1335.13,1112.13 L1338.46,1111.73 L1341.80,1111.33 L1345.13,1110.93 L1348.47,1110.53 L1351.81,1110.13 L1355.14,1109.74 L1358.48,1109.34 L1361.82,1108.95 L1365.15,1108.56 L1368.49,1108.16 L1371.82,1107.77 L1375.16,1107.38 L1378.50,1107.00 L1381.83,1106.61 L1385.17,1106.22 L1388.51,1105.84 L1391.84,1105.45 L1395.18,1105.07 L1398.52,1104.69 L1401.85,1104.31 L1405.19,1103.93 L1408.52,1103.55 L1411.86,1103.17 L1415.20,1102.79 L1418.53,1102.41 L1421.87,1102.04 L1425.21,1101.66 L1428.54,1101.29 L1431.88,1100.92 L1435.21,1100.54 L1438.55,1100.17 L1441.89,1099.80 L1445.22,1099.43 L1448.56,1099.07 L1451.90,1098.70 L1455.23,1098.33 L1458.57,1097.97 L1461.90,1097.60 L1465.24,1097.24 L1468.58,1096.87 L1471.91,1096.51 L1475.25,1096.15 L1478.59,1095.79 L1481.92,1095.43 L1485.26,1095.07 L1488.59,1094.72 L1491.93,1094.36 L1495.27,1094.00 L1498.60,1093.65 L1501.94,1093.29 L1505.28,1092.94 L1508.61,1092.59 L1511.95,1092.24 L1515.28,1091.88 L1518.62,1091.53 L1521.96,1091.19 L1525.29,1090.84 L1528.63,1090.49 L1531.97,1090.14 L1535.30,1089.80 L1538.64,1089.45 L1541.97,1089.11 L1545.31,1088.76 L1548.65,1088.42 L1551.98,1088.08 L1555.32,1087.74 L1558.66,1087.40 L1561.99,1087.06 L1565.33,1086.72 L1568.66,1086.38 L1572.00,1086.04 L1575.34,1085.70 L1578.67,1085.37 L1582.01,1085.03 L1585.35,1084.70 L1588.68,1084.37 L1592.02,1084.03 L1595.36,1083.70 L1598.69,1083.37 L1602.03,1083.04 L1605.36,1082.71 L1608.70,1082.38 L1612.04,1082.05 L1615.37,1081.72 L1618.71,1081.40 L1622.05,1081.07 L1625.38,1080.74 L1628.72,1080.42 L1632.05,1080.09 L1635.39,1079.77 L1638.73,1079.45 L1642.06,1079.12 L1645.40,1078.80 L1648.74,1078.48 L1652.07,1078.16 L1655.41,1077.84 L1658.74,1077.52 L1662.08,1077.21 L1665.42,1076.89 L1668.75,1076.57 L1672.09,1076.26 L1675.43,1075.94 L1678.76,1075.63 L1682.10,1075.31 L1685.43,1075.00 L1688.77,1074.69 L1692.11,1074.37 L1695.44,1074.06 L1698.78,1073.75 L1702.12,1073.44 L1705.45,1073.13 L1708.79,1072.82 L1712.12,1072.51 L1715.46,1072.21 L1718.80,1071.90 L1722.13,1071.59 L1725.47,1071.29 L1728.81,1070.98 L1732.14,1070.68 L1735.48,1070.37 L1738.81,1070.07 L1742.15,1069.77 L1745.49,1069.47 L1748.82,1069.16 L1752.16,1068.86 L1755.50,1068.56 L1758.83,1068.26 L1762.17,1067.96 L1765.51,1067.67 L1768.84,1067.37 L1772.18,1067.07 L1775.51,1066.77 L1778.85,1066.48 L1782.19,1066.18 L1785.52,1065.89 L1788.86,1065.59 L1792.20,1065.30 L1795.53,1065.01 L1798.87,1064.71 L1802.20,1064.42 L1805.54,1064.13 L1808.88,1063.84 L1812.21,1063.55 L1815.55,1063.26 L1818.89,1062.97 L1822.22,1062.68 L1825.56,1062.39 L1828.89,1062.10 L1832.23,1061.82 L1835.57,1061.53 L1838.90,1061.24 L1842.24,1060.96 L1845.58,1060.67 L1848.91,1060.39 L1852.25,1060.11 L1855.58,1059.82 L1858.92,1059.54 L1862.26,1059.26 L1865.59,1058.98 L1868.93,1058.69 L1872.27,1058.41 L1875.60,1058.13 L1878.94,1057.85 L1882.27,1057.58 L1885.61,1057.30 L1888.95,1057.02 L1892.28,1056.74 L1895.62,1056.46 L1898.96,1056.19 L1902.29,1055.91 L1905.63,1055.64 L1908.96,1055.36 L1912.30,1055.09 L1915.64,1054.81 L1918.97,1054.54 L1922.31,1054.27 L1925.65,1053.99 L1928.98,1053.72 L1932.32,1053.45 L1935.65,1053.18 L1938.99,1052.91 L1942.33,1052.64 L1945.66,1052.37 L1949.00,1052.10" fill="none" stroke="#000000" stroke-width="8.9" stroke-linejoin="round" stroke-dasharray="23.8,4.74,12.8,4.74"/>
<path d="M284.20,1561.84 L287.08,1560.25 L289.96,1558.17 L292.84,1556.12 L295.72,1554.10 L298.60,1552.11 L301.48,1550.14 L304.36,1548.20 L307.24,1546.28 L310.12,1544.39 L313.00,1542.52 L315.88,1540.68 L318.76,1538.86 L321.64,1537.06 L324.52,1535.28 L327.40,1533.53 L330.29,1531.80 L333.17,1530.08 L336.05,1528.39 L338.93,1526.71 L341.81,1525.06 L344.69,1523.42 L347.57,1521.80 L350.45,1520.20 L353.33,1518.62 L356.21,1517.05 L359.09,1515.50 L361.97,1513.97 L364.85,1512.45 L367.73,1510.95 L370.61,1509.46 L373.49,1507.99 L376.37,1506.53 L379.25,1505.09 L382.13,1503.67 L385.01,1502.25 L387.89,1500.85 L390.77,1499.47 L393.65,1498.09 L396.53,1496.73 L399.41,1495.39 L402.29,1494.05 L405.17,1492.73 L408.05,1491.42 L410.93,1490.12 L413.81,1488.83 L416.69,1487.56 L419.58,1486.29 L422.46,1485.04 L425.34,1483.79 L428.22,1482.56 L431.10,1481.34 L433.98,1480.13 L436.86,1478.93 L439.74,1477.74 L442.62,1476.56 L445.50,1475.39 L448.38,1474.22 L451.26,1473.07 L454.14,1471.93 L457.02,1470.79 L459.90,1469.67 L462.78,1468.55 L465.66,1467.44 L468.54,1466.34 L471.42,1465.25 L474.30,1464.17 L477.18,1463.10 L480.06,1462.03 L482.94,1460.97 L485.82,1459.92 L488.70,1458.88 L491.58,1457.84 L494.46,1456.81 L497.34,1455.79 L500.22,1454.78 L503.10,1453.77 L505.98,1452.77 L508.87,1451.78 L511.75,1450.80 L514.63,1449.82 L517.51,1448.85 L520.39,1447.88 L523.27,1446.92 L526.15,1445.97 L529.03,1445.03 L531.91,1444.09 L534.79,1443.15 L537.67,1442.23 L540.55,1441.30 L543.43,1440.39 L546.31,1439.48 L549.19,1438.58 L552.07,1437.68 L554.95,1436.79 L557.83,1435.90 L560.71,1435.02 L563.59,1434.14 L566.47,1433.27 L569.35,1432.41 L572.23,1431.55 L575.11,1430.69 L577.99,1429.85 L580.87,1429.00 L583.75,1428.16 L586.63,1427.33 L589.51,1426.50 L592.39,1425.67 L595.27,1424.85 L598.16,1424.04 L601.04,1423.23 L603.92,1422.42 L606.80,1421.62 L609.68,1420.83 L612.56,1420.03 L615.44,1419.25 L618.32,1418.46 L621.20,1417.68 L624.08,1416.91 L626.96,1416.14 L629.84,1415.37 L632.72,1414.61 L635.60,1413.85 L638.48,1413.10 L641.36,1412.35 L644.24,1411.60 L647.12,1410.86 L650.00,1410.12 L652.88,1409.39 L655.76,1408.66 L658.64,1407.93 L661.52,1407.21 L664.40,1406.49 L667.28,1405.78 L670.16,1405.06 L673.04,1404.36 L675.92,1403.65 L678.80,1402.95 L681.68,1402.25 L684.56,1401.56 L687.44,1400.87 L690.33,1400.18 L693.21,1399.50 L696.09,1398.82 L698.97,1398.14 L701.85,1397.46 L704.73,1396.79 L707.61,1396.13 L710.49,1395.46 L713.37,1394.80 L716.25,1394.14 L719.13,1393.49 L722.01,1392.83 L724.89,1392.19 L727.77,1391.54 L730.65,1390.90 L733.53,1390.26 L736.41,1389.62 L739.29,1388.98 L742.17,1388.35 L745.05,1387.72 L747.93,1387.10 L750.81,1386.47 L753.69,1385.85 L756.57,1385.24 L759.45,1384.62 L762.33,1384.01 L765.21,1383.40 L768.09,1382.79 L770.97,1382.19 L773.85,1381.59 L776.73,1380.99 L779.62,1380.39 L782.50,1379.80 L785.38,1379.21 L788.26,1378.62 L791.14,1378.03 L794.02,1377.45 L796.90,1376.87 L799.78,1376.29 L802.66,1375.71 L805.54,1375.14 L808.42,1374.56 L811.30,1373.99 L814.18,1373.43 L817.06,1372.86 L819.94,1372.30 L822.82,1371.74 L825.70,1371.18 L828.58,1370.62 L831.46,1370.07 L834.34,1369.52 L837.22,1368.97 L840.10,1368.42 L842.98,1367.88 L845.86,1367.33 L848.74,1366.79 L851.62,1366.25 L854.50,1365.72 L857.38,1365.18 L860.26,1364.65 L863.14,1364.12 L866.02,1363.59 L868.91,1363.06 L871.79,1362.54 L874.67,1362.02 L877.55,1361.49 L880.43,1360.98 L883.31,1360.46 L886.19,1359.94 L889.07,1359.43 L891.95,1358.92 L894.83,1358.41 L897.71,1357.90 L900.59,1357.40 L903.47,1356.89 L906.35,1356.39 L909.23,1355.89 L912.11,1355.39 L914.99,1354.90 L917.87,1354.40 L920.75,1353.91 L923.63,1353.42 L926.51,1352.93 L929.39,1352.44 L932.27,1351.95 L935.15,1351.47 L938.03,1350.99 L940.91,1350.50 L943.79,1350.03 L946.67,1349.55 L949.55,1349.07 L952.43,1348.60 L955.31,1348.12 L958.20,1347.65 L961.08,1347.18 L963.96,1346.71 L966.84,1346.25 L969.72,1345.78 L972.60,1345.32 L975.48,1344.86 L978.36,1344.40 L981.24,1343.94 L984.12,1343.48 L987.00,1343.03 L989.88,1342.57 L992.76,1342.12 L995.64,1341.67 L998.52,1341.22 L1001.40,1340.77" fill="none" stroke="#00ff00" stroke-width="8.9" stroke-linejoin="round" stroke-dasharray="24.1,21.98"/>
<path d="M1012.70,1339.02 L1015.83,1338.54 L1018.96,1338.06 L1022.09,1337.59 L1025.23,1337.11 L1028.36,1336.64 L1031.49,1336.17 L1034.62,1335.70 L1037.75,1335.23 L1040.88,1334.76 L1044.01,1334.30 L1047.15,1333.83 L1050.28,1333.37 L1053.41,1332.91 L1056.54,1332.45 L1059.67,1331.99 L1062.80,1331.54 L1065.93,1331.08 L1069.07,1330.63 L1072.20,1330.18 L1075.33,1329.73 L1078.46,1329.28 L1081.59,1328.83 L1084.72,1328.38 L1087.85,1327.94 L1090.99,1327.50 L1094.12,1327.05 L1097.25,1326.61 L1100.38,1326.18 L1103.51,1325.74 L1106.64,1325.30 L1109.77,1324.87 L1112.91,1324.43 L1116.04,1324.00 L1119.17,1323.57 L1122.30,1323.14 L1125.43,1322.71 L1128.56,1322.29 L1131.69,1321.86 L1134.83,1321.44 L1137.96,1321.01 L1141.09,1320.59 L1144.22,1320.17 L1147.35,1319.75 L1150.48,1319.33 L1153.61,1318.92 L1156.75,1318.50 L1159.88,1318.09 L1163.01,1317.68 L1166.14,1317.26 L1169.27,1316.85 L1172.40,1316.45 L1175.53,1316.04 L1178.67,1315.63 L1181.80,1315.23 L1184.93,1314.82 L1188.06,1314.42 L1191.19,1314.02 L1194.32,1313.61 L1197.45,1313.22 L1200.59,1312.82 L1203.72,1312.42 L1206.85,1312.02 L1209.98,1311.63 L1213.11,1311.23 L1216.24,1310.84 L1219.37,1310.45 L1222.51,1310.06 L1225.64,1309.67 L1228.77,1309.28 L1231.90,1308.89 L1235.03,1308.51 L1238.16,1308.12 L1241.29,1307.74 L1244.43,1307.35 L1247.56,1306.97 L1250.69,1306.59 L1253.82,1306.21 L1256.95,1305.83 L1260.08,1305.45 L1263.22,1305.08 L1266.35,1304.70 L1269.48,1304.33 L1272.61,1303.95 L1275.74,1303.58 L1278.87,1303.21 L1282.00,1302.84 L1285.14,1302.47 L1288.27,1302.10 L1291.40,1301.73 L1294.53,1301.36 L1297.66,1301.00 L1300.79,1300.63 L1303.92,1300.27 L1307.06,1299.91 L1310.19,1299.54 L1313.32,1299.18 L1316.45,1298.82 L1319.58,1298.46 L1322.71,1298.11 L1325.84,1297.75 L1328.98,1297.39 L1332.11,1297.04 L1335.24,1296.68 L1338.37,1296.33 L1341.50,1295.97 L1344.63,1295.62 L1347.76,1295.27 L1350.90,1294.92 L1354.03,1294.57 L1357.16,1294.22 L1360.29,1293.88 L1363.42,1293.53 L1366.55,1293.18 L1369.68,1292.84 L1372.82,1292.49 L1375.95,1292.15 L1379.08,1291.81 L1382.21,1291.47 L1385.34,1291.13 L1388.47,1290.79 L1391.60,1290.45 L1394.74,1290.11 L1397.87,1289.77 L1401.00,1289.44 L1404.13,1289.10 L1407.26,1288.76 L1410.39,1288.43 L1413.52,1288.10 L1416.66,1287.76 L1419.79,1287.43 L1422.92,1287.10 L1426.05,1286.77 L1429.18,1286.44 L1432.31,1286.11 L1435.44,1285.79 L1438.58,1285.46 L1441.71,1285.13 L1444.84,1284.81 L1447.97,1284.48 L1451.10,1284.16 L1454.23,1283.84 L1457.36,1283.51 L1460.50,1283.19 L1463.63,1282.87 L1466.76,1282.55 L1469.89,1282.23 L1473.02,1281.91 L1476.15,1281.59 L1479.28,1281.28 L1482.42,1280.96 L1485.55,1280.64 L1488.68,1280.33 L1491.81,1280.01 L1494.94,1279.70 L1498.07,1279.39 L1501.20,1279.08 L1504.34,1278.76 L1507.47,1278.45 L1510.60,1278.14 L1513.73,1277.83 L1516.86,1277.52 L1519.99,1277.22 L1523.12,1276.91 L1526.26,1276.60 L1529.39,1276.30 L1532.52,1275.99 L1535.65,1275.69 L1538.78,1275.38 L1541.91,1275.08 L1545.04,1274.78 L1548.18,1274.47 L1551.31,1274.17 L1554.44,1273.87 L1557.57,1273.57 L1560.70,1273.27 L1563.83,1272.97 L1566.96,1272.68 L1570.10,1272.38 L1573.23,1272.08 L1576.36,1271.78 L1579.49,1271.49 L1582.62,1271.19 L1585.75,1270.90 L1588.88,1270.61 L1592.02,1270.31 L1595.15,1270.02 L1598.28,1269.73 L1601.41,1269.44 L1604.54,1269.15 L1607.67,1268.86 L1610.80,1268.57 L1613.94,1268.28 L1617.07,1267.99 L1620.20,1267.70 L1623.33,1267.42 L1626.46,1267.13 L1629.59,1266.84 L1632.72,1266.56 L1635.86,1266.27 L1638.99,1265.99 L1642.12,1265.71 L1645.25,1265.42 L1648.38,1265.14 L1651.51,1264.86 L1654.64,1264.58 L1657.78,1264.30 L1660.91,1264.02 L1664.04,1263.74 L1667.17,1263.46 L1670.30,1263.18 L1673.43,1262.90 L1676.56,1262.62 L1679.70,1262.35 L1682.83,1262.07 L1685.96,1261.80 L1689.09,1261.52 L1692.22,1261.25 L1695.35,1260.97 L1698.48,1260.70 L1701.62,1260.43 L1704.75,1260.15 L1707.88,1259.88 L1711.01,1259.61 L1714.14,1259.34 L1717.27,1259.07 L1720.41,1258.80 L1723.54,1258.53 L1726.67,1258.26 L1729.80,1257.99 L1732.93,1257.73 L1736.06,1257.46 L1739.19,1257.19 L1742.33,1256.93 L1745.46,1256.66 L1748.59,1256.40 L1751.72,1256.13 L1754.85,1255.87 L1757.98,1255.60 L1761.11,1255.34 L1764.25,1255.08 L1767.38,1254.82 L1770.51,1254.55 L1773.64,1254.29 L1776.77,1254.03 L1779.90,1253.77 L1783.03,1253.51 L1786.17,1253.25 L1789.30,1253.00 L1792.43,1252.74 L1795.56,1252.48 L1798.69,1252.22 L1801.82,1251.97 L1804.95,1251.71 L1808.09,1251.45 L1811.22,1251.20 L1814.35,1250.94 L1817.48,1250.69 L1820.61,1250.43 L1823.74,1250.18 L1826.87,1249.93 L1830.01,1249.68 L1833.14,1249.42 L1836.27,1249.17 L1839.40,1248.92 L1842.53,1248.67 L1845.66,1248.42 L1848.79,1248.17 L1851.93,1247.92 L1855.06,1247.67 L1858.19,1247.42 L1861.32,1247.18 L1864.45,1246.93 L1867.58,1246.68 L1870.71,1246.43 L1873.85,1246.19 L1876.98,1245.94 L1880.11,1245.70 L1883.24,1245.45 L1886.37,1245.21 L1889.50,1244.96 L1892.63,1244.72 L1895.77,1244.48 L1898.90,1244.23 L1902.03,1243.99 L1905.16,1243.75 L1908.29,1243.51 L1911.42,1243.27 L1914.55,1243.03 L1917.69,1242.79 L1920.82,1242.55 L1923.95,1242.31 L1927.08,1242.07 L1930.21,1241.83 L1933.34,1241.59 L1936.47,1241.35 L1939.61,1241.12 L1942.74,1240.88 L1945.87,1240.64 L1949.00,1240.41" fill="none" stroke="#00ff00" stroke-width="8.9" stroke-linejoin="round" stroke-dasharray="24.1,21.98"/>
<path d="M284.20,1676.91 L287.18,1675.34 L290.16,1673.31 L293.14,1671.31 L296.12,1669.33 L299.10,1667.38 L302.09,1665.46 L305.07,1663.57 L308.05,1661.70 L311.03,1659.85 L314.01,1658.03 L316.99,1656.23 L319.97,1654.46 L322.95,1652.70 L325.93,1650.97 L328.91,1649.26 L331.89,1647.57 L334.88,1645.90 L337.86,1644.25 L340.84,1642.62 L343.82,1641.01 L346.80,1639.42 L349.78,1637.84 L352.76,1636.29 L355.74,1634.75 L358.72,1633.22 L361.70,1631.72 L364.68,1630.23 L367.67,1628.75 L370.65,1627.29 L373.63,1625.85 L376.61,1624.42 L379.59,1623.01 L382.57,1621.61 L385.55,1620.22 L388.53,1618.85 L391.51,1617.49 L394.49,1616.15 L397.48,1614.82 L400.46,1613.50 L403.44,1612.19 L406.42,1610.90 L409.40,1609.62 L412.38,1608.35 L415.36,1607.09 L418.34,1605.84 L421.32,1604.61 L424.30,1603.38 L427.28,1602.17 L430.27,1600.96 L433.25,1599.77 L436.23,1598.59 L439.21,1597.42 L442.19,1596.25 L445.17,1595.10 L448.15,1593.96 L451.13,1592.83 L454.11,1591.70 L457.09,1590.59 L460.07,1589.48 L463.06,1588.39 L466.04,1587.30 L469.02,1586.22 L472.00,1585.15 L474.98,1584.09 L477.96,1583.03 L480.94,1581.99 L483.92,1580.95 L486.90,1579.92 L489.88,1578.90 L492.86,1577.88 L495.85,1576.88 L498.83,1575.88 L501.81,1574.89 L504.79,1573.90 L507.77,1572.92 L510.75,1571.95 L513.73,1570.99 L516.71,1570.03 L519.69,1569.08 L522.67,1568.14 L525.65,1567.20 L528.64,1566.27 L531.62,1565.35 L534.60,1564.43 L537.58,1563.52 L540.56,1562.61 L543.54,1561.72 L546.52,1560.82 L549.50,1559.93 L552.48,1559.05 L555.46,1558.18 L558.44,1557.31 L561.43,1556.44 L564.41,1555.58 L567.39,1554.73 L570.37,1553.88 L573.35,1553.04 L576.33,1552.20 L579.31,1551.37 L582.29,1550.54 L585.27,1549.72 L588.25,1548.91 L591.24,1548.09 L594.22,1547.29 L597.20,1546.49 L600.18,1545.69 L603.16,1544.90 L606.14,1544.11 L609.12,1543.32 L612.10,1542.55 L615.08,1541.77 L618.06,1541.00 L621.04,1540.24 L624.03,1539.48 L627.01,1538.72 L629.99,1537.97 L632.97,1537.22 L635.95,1536.48 L638.93,1535.74 L641.91,1535.00 L644.89,1534.27 L647.87,1533.54 L650.85,1532.82 L653.83,1532.10 L656.82,1531.38 L659.80,1530.67 L662.78,1529.97 L665.76,1529.26 L668.74,1528.56 L671.72,1527.86 L674.70,1527.17 L677.68,1526.48 L680.66,1525.80 L683.64,1525.11 L686.62,1524.43 L689.61,1523.76 L692.59,1523.09 L695.57,1522.42 L698.55,1521.75 L701.53,1521.09 L704.51,1520.43 L707.49,1519.78 L710.47,1519.13 L713.45,1518.48 L716.43,1517.83 L719.41,1517.19 L722.40,1516.55 L725.38,1515.91 L728.36,1515.28 L731.34,1514.65 L734.32,1514.02 L737.30,1513.40 L740.28,1512.78 L743.26,1512.16 L746.24,1511.55 L749.22,1510.93 L752.21,1510.32 L755.19,1509.72 L758.17,1509.11 L761.15,1508.51 L764.13,1507.91 L767.11,1507.32 L770.09,1506.72 L773.07,1506.13 L776.05,1505.55 L779.03,1504.96 L782.01,1504.38 L785.00,1503.80 L787.98,1503.22 L790.96,1502.65 L793.94,1502.07 L796.92,1501.50 L799.90,1500.94 L802.88,1500.37 L805.86,1499.81 L808.84,1499.25 L811.82,1498.69 L814.80,1498.14 L817.79,1497.58 L820.77,1497.03 L823.75,1496.49 L826.73,1495.94 L829.71,1495.40 L832.69,1494.85 L835.67,1494.32 L838.65,1493.78 L841.63,1493.24 L844.61,1492.71 L847.59,1492.18 L850.58,1491.65 L853.56,1491.13 L856.54,1490.60 L859.52,1490.08 L862.50,1489.56 L865.48,1489.04 L868.46,1488.53 L871.44,1488.01 L874.42,1487.50 L877.40,1486.99 L880.38,1486.48 L883.37,1485.98 L886.35,1485.48 L889.33,1484.97 L892.31,1484.47 L895.29,1483.98 L898.27,1483.48 L901.25,1482.99 L904.23,1482.49 L907.21,1482.00 L910.19,1481.52 L913.17,1481.03 L916.16,1480.54 L919.14,1480.06 L922.12,1479.58 L925.10,1479.10 L928.08,1478.62 L931.06,1478.15 L934.04,1477.67 L937.02,1477.20 L940.00,1476.73 L942.98,1476.26 L945.97,1475.79 L948.95,1475.33 L951.93,1474.86 L954.91,1474.40 L957.89,1473.94 L960.87,1473.48 L963.85,1473.02 L966.83,1472.57 L969.81,1472.11 L972.79,1471.66 L975.77,1471.21 L978.76,1470.76 L981.74,1470.31 L984.72,1469.87 L987.70,1469.42 L990.68,1468.98 L993.66,1468.54 L996.64,1468.10 L999.62,1467.66 L1002.60,1467.22 L1005.58,1466.79 L1008.56,1466.35 L1011.55,1465.92 L1014.53,1465.49 L1017.51,1465.06 L1020.49,1464.63 L1023.47,1464.20 L1026.45,1463.78" fill="none" stroke="#ff0000" stroke-width="8.9" stroke-linejoin="round" stroke-dasharray="6.8,4.26"/>
<path d="M1037.65,1462.19 L1040.70,1461.76 L1043.75,1461.33 L1046.79,1460.91 L1049.84,1460.48 L1052.89,1460.06 L1055.94,1459.64 L1058.99,1459.22 L1062.03,1458.80 L1065.08,1458.38 L1068.13,1457.97 L1071.18,1457.55 L1074.23,1457.14 L1077.27,1456.73 L1080.32,1456.32 L1083.37,1455.91 L1086.42,1455.50 L1089.47,1455.09 L1092.51,1454.69 L1095.56,1454.28 L1098.61,1453.88 L1101.66,1453.48 L1104.71,1453.08 L1107.75,1452.68 L1110.80,1452.28 L1113.85,1451.88 L1116.90,1451.49 L1119.95,1451.10 L1122.99,1450.70 L1126.04,1450.31 L1129.09,1449.92 L1132.14,1449.53 L1135.19,1449.14 L1138.23,1448.75 L1141.28,1448.37 L1144.33,1447.98 L1147.38,1447.60 L1150.43,1447.22 L1153.47,1446.84 L1156.52,1446.46 L1159.57,1446.08 L1162.62,1445.70 L1165.67,1445.32 L1168.71,1444.95 L1171.76,1444.57 L1174.81,1444.20 L1177.86,1443.83 L1180.91,1443.46 L1183.95,1443.09 L1187.00,1442.72 L1190.05,1442.35 L1193.10,1441.98 L1196.15,1441.62 L1199.19,1441.25 L1202.24,1440.89 L1205.29,1440.52 L1208.34,1440.16 L1211.39,1439.80 L1214.43,1439.44 L1217.48,1439.08 L1220.53,1438.72 L1223.58,1438.37 L1226.63,1438.01 L1229.67,1437.66 L1232.72,1437.30 L1235.77,1436.95 L1238.82,1436.60 L1241.87,1436.25 L1244.91,1435.90 L1247.96,1435.55 L1251.01,1435.20 L1254.06,1434.85 L1257.11,1434.51 L1260.15,1434.16 L1263.20,1433.82 L1266.25,1433.48 L1269.30,1433.13 L1272.35,1432.79 L1275.39,1432.45 L1278.44,1432.11 L1281.49,1431.77 L1284.54,1431.44 L1287.59,1431.10 L1290.63,1430.76 L1293.68,1430.43 L1296.73,1430.09 L1299.78,1429.76 L1302.83,1429.43 L1305.87,1429.10 L1308.92,1428.76 L1311.97,1428.43 L1315.02,1428.11 L1318.07,1427.78 L1321.11,1427.45 L1324.16,1427.12 L1327.21,1426.80 L1330.26,1426.47 L1333.31,1426.15 L1336.35,1425.83 L1339.40,1425.50 L1342.45,1425.18 L1345.50,1424.86 L1348.55,1424.54 L1351.59,1424.22 L1354.64,1423.90 L1357.69,1423.59 L1360.74,1423.27 L1363.79,1422.95 L1366.83,1422.64 L1369.88,1422.32 L1372.93,1422.01 L1375.98,1421.70 L1379.03,1421.39 L1382.07,1421.08 L1385.12,1420.76 L1388.17,1420.45 L1391.22,1420.15 L1394.27,1419.84 L1397.31,1419.53 L1400.36,1419.22 L1403.41,1418.92 L1406.46,1418.61 L1409.51,1418.31 L1412.55,1418.00 L1415.60,1417.70 L1418.65,1417.40 L1421.70,1417.10 L1424.75,1416.80 L1427.79,1416.50 L1430.84,1416.20 L1433.89,1415.90 L1436.94,1415.60 L1439.99,1415.30 L1443.03,1415.01 L1446.08,1414.71 L1449.13,1414.41 L1452.18,1414.12 L1455.23,1413.83 L1458.27,1413.53 L1461.32,1413.24 L1464.37,1412.95 L1467.42,1412.66 L1470.47,1412.37 L1473.51,1412.08 L1476.56,1411.79 L1479.61,1411.50 L1482.66,1411.21 L1485.71,1410.92 L1488.75,1410.64 L1491.80,1410.35 L1494.85,1410.07 L1497.90,1409.78 L1500.94,1409.50 L1503.99,1409.22 L1507.04,1408.93 L1510.09,1408.65 L1513.14,1408.37 L1516.18,1408.09 L1519.23,1407.81 L1522.28,1407.53 L1525.33,1407.25 L1528.38,1406.97 L1531.42,1406.69 L1534.47,1406.42 L1537.52,1406.14 L1540.57,1405.86 L1543.62,1405.59 L1546.66,1405.31 L1549.71,1405.04 L1552.76,1404.77 L1555.81,1404.49 L1558.86,1404.22 L1561.90,1403.95 L1564.95,1403.68 L1568.00,1403.41 L1571.05,1403.14 L1574.10,1402.87 L1577.14,1402.60 L1580.19,1402.33 L1583.24,1402.07 L1586.29,1401.80 L1589.34,1401.53 L1592.38,1401.27 L1595.43,1401.00 L1598.48,1400.74 L1601.53,1400.47 L1604.58,1400.21 L1607.62,1399.94 L1610.67,1399.68 L1613.72,1399.42 L1616.77,1399.16 L1619.82,1398.90 L1622.86,1398.64 L1625.91,1398.38 L1628.96,1398.12 L1632.01,1397.86 L1635.06,1397.60 L1638.10,1397.34 L1641.15,1397.09 L1644.20,1396.83 L1647.25,1396.57 L1650.30,1396.32 L1653.34,1396.06 L1656.39,1395.81 L1659.44,1395.55 L1662.49,1395.30 L1665.54,1395.05 L1668.58,1394.79 L1671.63,1394.54 L1674.68,1394.29 L1677.73,1394.04 L1680.78,1393.79 L1683.82,1393.54 L1686.87,1393.29 L1689.92,1393.04 L1692.97,1392.79 L1696.02,1392.54 L1699.06,1392.30 L1702.11,1392.05 L1705.16,1391.80 L1708.21,1391.56 L1711.26,1391.31 L1714.30,1391.07 L1717.35,1390.82 L1720.40,1390.58 L1723.45,1390.33 L1726.50,1390.09 L1729.54,1389.85 L1732.59,1389.61 L1735.64,1389.36 L1738.69,1389.12 L1741.74,1388.88 L1744.78,1388.64 L1747.83,1388.40 L1750.88,1388.16 L1753.93,1387.92 L1756.98,1387.68 L1760.02,1387.45 L1763.07,1387.21 L1766.12,1386.97 L1769.17,1386.73 L1772.22,1386.50 L1775.26,1386.26 L1778.31,1386.03 L1781.36,1385.79 L1784.41,1385.56 L1787.46,1385.32 L1790.50,1385.09 L1793.55,1384.86 L1796.60,1384.62 L1799.65,1384.39 L1802.70,1384.16 L1805.74,1383.93 L1808.79,1383.70 L1811.84,1383.47 L1814.89,1383.24 L1817.94,1383.01 L1820.98,1382.78 L1824.03,1382.55 L1827.08,1382.32 L1830.13,1382.09 L1833.18,1381.86 L1836.22,1381.64 L1839.27,1381.41 L1842.32,1381.18 L1845.37,1380.96 L1848.42,1380.73 L1851.46,1380.51 L1854.51,1380.28 L1857.56,1380.06 L1860.61,1379.83 L1863.66,1379.61 L1866.70,1379.39 L1869.75,1379.16 L1872.80,1378.94 L1875.85,1378.72 L1878.90,1378.50 L1881.94,1378.28 L1884.99,1378.06 L1888.04,1377.84 L1891.09,1377.62 L1894.14,1377.40 L1897.18,1377.18 L1900.23,1376.96 L1903.28,1376.74 L1906.33,1376.52 L1909.38,1376.30 L1912.42,1376.09 L1915.47,1375.87 L1918.52,1375.65 L1921.57,1375.44 L1924.62,1375.22 L1927.66,1375.00 L1930.71,1374.79 L1933.76,1374.57 L1936.81,1374.36 L1939.86,1374.15 L1942.90,1373.93 L1945.95,1373.72 L1949.00,1373.51" fill="none" stroke="#ff0000" stroke-width="8.9" stroke-linejoin="round" stroke-dasharray="6.8,4.26"/>
<path d="M284.20,1770.80 L287.54,1769.03 L290.87,1766.82 L294.21,1764.65 L297.55,1762.51 L300.88,1760.41 L304.22,1758.34 L307.55,1756.30 L310.89,1754.29 L314.23,1752.31 L317.56,1750.36 L320.90,1748.44 L324.24,1746.54 L327.57,1744.68 L330.91,1742.83 L334.24,1741.02 L337.58,1739.23 L340.92,1737.46 L344.25,1735.72 L347.59,1734.00 L350.93,1732.30 L354.26,1730.62 L357.60,1728.96 L360.93,1727.33 L364.27,1725.71 L367.61,1724.12 L370.94,1722.54 L374.28,1720.98 L377.62,1719.44 L380.95,1717.92 L384.29,1716.42 L387.62,1714.93 L390.96,1713.46 L394.30,1712.01 L397.63,1710.57 L400.97,1709.15 L404.31,1707.75 L407.64,1706.35 L410.98,1704.98 L414.31,1703.62 L417.65,1702.27 L420.99,1700.94 L424.32,1699.61 L427.66,1698.31 L431.00,1697.01 L434.33,1695.73 L437.67,1694.47 L441.00,1693.21 L444.34,1691.97 L447.68,1690.73 L451.01,1689.51 L454.35,1688.31 L457.69,1687.11 L461.02,1685.92 L464.36,1684.75 L467.69,1683.58 L471.03,1682.43 L474.37,1681.28 L477.70,1680.15 L481.04,1679.03 L484.38,1677.91 L487.71,1676.81 L491.05,1675.71 L494.39,1674.63 L497.72,1673.55 L501.06,1672.48 L504.39,1671.43 L507.73,1670.38 L511.07,1669.33 L514.40,1668.30 L517.74,1667.28 L521.08,1666.26 L524.41,1665.25 L527.75,1664.25 L531.08,1663.26 L534.42,1662.27 L537.76,1661.30 L541.09,1660.33 L544.43,1659.36 L547.77,1658.41 L551.10,1657.46 L554.44,1656.52 L557.77,1655.59 L561.11,1654.66 L564.45,1653.74 L567.78,1652.83 L571.12,1651.92 L574.46,1651.02 L577.79,1650.12 L581.13,1649.23 L584.46,1648.35 L587.80,1647.48 L591.14,1646.61 L594.47,1645.74 L597.81,1644.89 L601.15,1644.03 L604.48,1643.19 L607.82,1642.35 L611.15,1641.51 L614.49,1640.68 L617.83,1639.86 L621.16,1639.04 L624.50,1638.23 L627.84,1637.42 L631.17,1636.61 L634.51,1635.82 L637.84,1635.02 L641.18,1634.23 L644.52,1633.45 L647.85,1632.67 L651.19,1631.90 L654.53,1631.13 L657.86,1630.37 L661.20,1629.61 L664.54,1628.85 L667.87,1628.10 L671.21,1627.36 L674.54,1626.62 L677.88,1625.88 L681.22,1625.15 L684.55,1624.42 L687.89,1623.69 L691.23,1622.97 L694.56,1622.26 L697.90,1621.55 L701.23,1620.84 L704.57,1620.13 L707.91,1619.43 L711.24,1618.74 L714.58,1618.05 L717.92,1617.36 L721.25,1616.67 L724.59,1615.99 L727.92,1615.32 L731.26,1614.64 L734.60,1613.97 L737.93,1613.31 L741.27,1612.64 L744.61,1611.98 L747.94,1611.33 L751.28,1610.68 L754.61,1610.03 L757.95,1609.38 L761.29,1608.74 L764.62,1608.10 L767.96,1607.47 L771.30,1606.83 L774.63,1606.20 L777.97,1605.58 L781.30,1604.96 L784.64,1604.34 L787.98,1603.72 L791.31,1603.11 L794.65,1602.49 L797.99,1601.89 L801.32,1601.28 L804.66,1600.68 L807.99,1600.08 L811.33,1599.49 L814.67,1598.89 L818.00,1598.30 L821.34,1597.72 L824.68,1597.13 L828.01,1596.55 L831.35,1595.97 L834.68,1595.39 L838.02,1594.82 L841.36,1594.25 L844.69,1593.68 L848.03,1593.11 L851.37,1592.55 L854.70,1591.99 L858.04,1591.43 L861.38,1590.88 L864.71,1590.32 L868.05,1589.77 L871.38,1589.22 L874.72,1588.68 L878.06,1588.13 L881.39,1587.59 L884.73,1587.05 L888.07,1586.52 L891.40,1585.98 L894.74,1585.45 L898.07,1584.92 L901.41,1584.39 L904.75,1583.87 L908.08,1583.35 L911.42,1582.83 L914.76,1582.31 L918.09,1581.79 L921.43,1581.28 L924.76,1580.76 L928.10,1580.26 L931.44,1579.75 L934.77,1579.24 L938.11,1578.74 L941.45,1578.24 L944.78,1577.74 L948.12,1577.24 L951.45,1576.74 L954.79,1576.25 L958.13,1575.76 L961.46,1575.27 L964.80,1574.78 L968.14,1574.30 L971.47,1573.81 L974.81,1573.33 L978.14,1572.85 L981.48,1572.37 L984.82,1571.90 L988.15,1571.42 L991.49,1570.95 L994.83,1570.48 L998.16,1570.01 L1001.50,1569.54 L1004.83,1569.08 L1008.17,1568.61 L1011.51,1568.15 L1014.84,1567.69 L1018.18,1567.23 L1021.52,1566.77 L1024.85,1566.32 L1028.19,1565.87 L1031.53,1565.41 L1034.86,1564.96 L1038.20,1564.52 L1041.53,1564.07 L1044.87,1563.62 L1048.21,1563.18 L1051.54,1562.74 L1054.88,1562.30 L1058.22,1561.86 L1061.55,1561.42 L1064.89,1560.99 L1068.22,1560.55 L1071.56,1560.12 L1074.90,1559.69 L1078.23,1559.26 L1081.57,1558.83 L1084.91,1558.40 L1088.24,1557.98 L1091.58,1557.55 L1094.91,1557.13 L1098.25,1556.71 L1101.59,1556.29 L1104.92,1555.87 L1108.26,1555.46 L1111.60,1555.04 L1114.93,1554.63 L1118.27,1554.22 L1121.60,1553.80 L1124.94,1553.40 L1128.28,1552.99 L1131.61,1552.58 L1134.95,1552.17 L1138.29,1551.77 L1141.62,1551.37 L1144.96,1550.97 L1148.29,1550.57 L1151.63,1550.17 L1154.97,1549.77 L1158.30,1549.37 L1161.64,1548.98 L1164.98,1548.58 L1168.31,1548.19 L1171.65,1547.80 L1174.98,1547.41 L1178.32,1547.02 L1181.66,1546.63 L1184.99,1546.25 L1188.33,1545.86 L1191.67,1545.48 L1195.00,1545.10 L1198.34,1544.72 L1201.67,1544.34 L1205.01,1543.96 L1208.35,1543.58 L1211.68,1543.20 L1215.02,1542.83 L1218.36,1542.45 L1221.69,1542.08 L1225.03,1541.71 L1228.37,1541.33 L1231.70,1540.96 L1235.04,1540.60 L1238.37,1540.23 L1241.71,1539.86 L1245.05,1539.50 L1248.38,1539.13 L1251.72,1538.77 L1255.06,1538.41 L1258.39,1538.05 L1261.73,1537.69 L1265.06,1537.33 L1268.40,1536.97 L1271.74,1536.61 L1275.07,1536.26 L1278.41,1535.90 L1281.75,1535.55 L1285.08,1535.19 L1288.42,1534.84 L1291.75,1534.49 L1295.09,1534.14 L1298.43,1533.79 L1301.76,1533.44 L1305.10,1533.10 L1308.44,1532.75 L1311.77,1532.41 L1315.11,1532.06 L1318.44,1531.72 L1321.78,1531.38 L1325.12,1531.04 L1328.45,1530.70 L1331.79,1530.36 L1335.13,1530.02 L1338.46,1529.68 L1341.80,1529.35 L1345.13,1529.01 L1348.47,1528.68 L1351.81,1528.34 L1355.14,1528.01 L1358.48,1527.68 L1361.82,1527.35 L1365.15,1527.02 L1368.49,1526.69 L1371.82,1526.36 L1375.16,1526.03 L1378.50,1525.71 L1381.83,1525.38 L1385.17,1525.06 L1388.51,1524.73 L1391.84,1524.41 L1395.18,1524.09 L1398.52,1523.77 L1401.85,1523.45 L1405.19,1523.13 L1408.52,1522.81 L1411.86,1522.49 L1415.20,1522.17 L1418.53,1521.86 L1421.87,1521.54 L1425.21,1521.23 L1428.54,1520.91 L1431.88,1520.60 L1435.21,1520.29 L1438.55,1519.98 L1441.89,1519.67 L1445.22,1519.36 L1448.56,1519.05 L1451.90,1518.74 L1455.23,1518.43 L1458.57,1518.13 L1461.90,1517.82 L1465.24,1517.52 L1468.58,1517.21 L1471.91,1516.91 L1475.25,1516.60 L1478.59,1516.30 L1481.92,1516.00 L1485.26,1515.70 L1488.59,1515.40 L1491.93,1515.10 L1495.27,1514.80 L1498.60,1514.51 L1501.94,1514.21 L1505.28,1513.91 L1508.61,1513.62 L1511.95,1513.32 L1515.28,1513.03 L1518.62,1512.73 L1521.96,1512.44 L1525.29,1512.15 L1528.63,1511.86 L1531.97,1511.57 L1535.30,1511.28 L1538.64,1510.99 L1541.97,1510.70 L1545.31,1510.41 L1548.65,1510.13 L1551.98,1509.84 L1555.32,1509.55 L1558.66,1509.27 L1561.99,1508.98 L1565.33,1508.70 L1568.66,1508.42 L1572.00,1508.13 L1575.34,1507.85 L1578.67,1507.57 L1582.01,1507.29 L1585.35,1507.01 L1588.68,1506.73 L1592.02,1506.45 L1595.36,1506.18 L1598.69,1505.90 L1602.03,1505.62 L1605.36,1505.35 L1608.70,1505.07 L1612.04,1504.80 L1615.37,1504.52 L1618.71,1504.25 L1622.05,1503.97 L1625.38,1503.70 L1628.72,1503.43 L1632.05,1503.16 L1635.39,1502.89 L1638.73,1502.62 L1642.06,1502.35 L1645.40,1502.08 L1648.74,1501.81 L1652.07,1501.55 L1655.41,1501.28 L1658.74,1501.01 L1662.08,1500.75 L1665.42,1500.48 L1668.75,1500.22 L1672.09,1499.95 L1675.43,1499.69 L1678.76,1499.43 L1682.10,1499.16 L1685.43,1498.90 L1688.77,1498.64 L1692.11,1498.38 L1695.44,1498.12 L1698.78,1497.86 L1702.12,1497.60 L1705.45,1497.34 L1708.79,1497.09 L1712.12,1496.83 L1715.46,1496.57 L1718.80,1496.31 L1722.13,1496.06 L1725.47,1495.80 L1728.81,1495.55 L1732.14,1495.29 L1735.48,1495.04 L1738.81,1494.79 L1742.15,1494.54 L1745.49,1494.28 L1748.82,1494.03 L1752.16,1493.78 L1755.50,1493.53 L1758.83,1493.28 L1762.17,1493.03 L1765.51,1492.78 L1768.84,1492.53 L1772.18,1492.29 L1775.51,1492.04 L1778.85,1491.79 L1782.19,1491.55 L1785.52,1491.30 L1788.86,1491.05 L1792.20,1490.81 L1795.53,1490.57 L1798.87,1490.32 L1802.20,1490.08 L1805.54,1489.83 L1808.88,1489.59 L1812.21,1489.35 L1815.55,1489.11 L1818.89,1488.87 L1822.22,1488.63 L1825.56,1488.39 L1828.89,1488.15 L1832.23,1487.91 L1835.57,1487.67 L1838.90,1487.43 L1842.24,1487.19 L1845.58,1486.96 L1848.91,1486.72 L1852.25,1486.48 L1855.58,1486.25 L1858.92,1486.01 L1862.26,1485.78 L1865.59,1485.54 L1868.93,1485.31 L1872.27,1485.08 L1875.60,1484.84 L1878.94,1484.61 L1882.27,1484.38 L1885.61,1484.15 L1888.95,1483.91 L1892.28,1483.68 L1895.62,1483.45 L1898.96,1483.22 L1902.29,1482.99 L1905.63,1482.76 L1908.96,1482.54 L1912.30,1482.31 L1915.64,1482.08 L1918.97,1481.85 L1922.31,1481.62 L1925.65,1481.40 L1928.98,1481.17 L1932.32,1480.95 L1935.65,1480.72 L1938.99,1480.50 L1942.33,1480.27 L1945.66,1480.05 L1949.00,1479.82" fill="none" stroke="#0000ff" stroke-width="8.9" stroke-linejoin="round"/>
</g>
<text transform="translate(219.50,128.90) scale(0.9850,1.0450)" font-family='"Liberation Sans", sans-serif' font-weight="bold" font-style="normal" font-size="62.50" fill="#262626">2</text>
<text transform="translate(167.94,290.30) scale(0.9850,1.0450)" font-family='"Liberation Sans", sans-serif' font-weight="bold" font-style="normal" font-size="62.50" fill="#262626">1.9</text>
<text transform="translate(167.47,451.70) scale(0.9850,1.0450)" font-family='"Liberation Sans", sans-serif' font-weight="bold" font-style="normal" font-size="62.50" fill="#262626">1.8</text>
<text transform="translate(168.40,613.10) scale(0.9850,1.0450)" font-family='"Liberation Sans", sans-serif' font-weight="bold" font-style="normal" font-size="62.50" fill="#262626">1.7</text>
<text transform="translate(167.78,774.50) scale(0.9850,1.0450)" font-family='"Liberation Sans", sans-serif' font-weight="bold" font-style="normal" font-size="62.50" fill="#262626">1.6</text>
<text transform="translate(350.09,930.60) scale(0.9850,1.0450)" font-family='"Liberation Sans", sans-serif' font-weight="bold" font-style="normal" font-size="62.50" fill="#262626">50</text>
<text transform="translate(646.08,930.60) scale(0.9850,1.0450)" font-family='"Liberation Sans", sans-serif' font-weight="bold" font-style="normal" font-size="62.50" fill="#262626">100</text>
<text transform="translate(960.08,930.60) scale(0.9850,1.0450)" font-family='"Liberation Sans", sans-serif' font-weight="bold" font-style="normal" font-size="62.50" fill="#262626">150</text>
<text transform="translate(1274.93,930.60) scale(0.9850,1.0450)" font-family='"Liberation Sans", sans-serif' font-weight="bold" font-style="normal" font-size="62.50" fill="#262626">200</text>
<text transform="translate(1588.93,930.60) scale(0.9850,1.0450)" font-family='"Liberation Sans", sans-serif' font-weight="bold" font-style="normal" font-size="62.50" fill="#262626">250</text>
<text transform="translate(1903.31,930.60) scale(0.9850,1.0450)" font-family='"Liberation Sans", sans-serif' font-weight="bold" font-style="normal" font-size="62.50" fill="#262626">300</text>
<text transform="translate(162.48,1031.10) scale(0.9850,1.0450)" font-family='"Liberation Sans", sans-serif' font-weight="bold" font-style="normal" font-size="62.50" fill="#262626">1.6</text>
<text transform="translate(162.02,1192.50) scale(0.9850,1.0450)" font-family='"Liberation Sans", sans-serif' font-weight="bold" font-style="normal" font-size="62.50" fill="#262626">1.5</text>
<text transform="translate(160.64,1353.90) scale(0.9850,1.0450)" font-family='"Liberation Sans", sans-serif' font-weight="bold" font-style="normal" font-size="62.50" fill="#262626">1.4</text>
<text transform="translate(162.48,1515.30) scale(0.9850,1.0450)" font-family='"Liberation Sans", sans-serif' font-weight="bold" font-style="normal" font-size="62.50" fill="#262626">1.3</text>
<text transform="translate(162.79,1676.70) scale(0.9850,1.0450)" font-family='"Liberation Sans", sans-serif' font-weight="bold" font-style="normal" font-size="62.50" fill="#262626">1.2</text>
<text transform="translate(162.02,1838.10) scale(0.9850,1.0450)" font-family='"Liberation Sans", sans-serif' font-weight="bold" font-style="normal" font-size="62.50" fill="#262626">1.1</text>
<text transform="translate(344.59,1913.40) scale(0.9850,1.0450)" font-family='"Liberation Sans", sans-serif' font-weight="bold" font-style="normal" font-size="62.50" fill="#262626">50</text>
<text transform="translate(640.43,1913.40) scale(0.9850,1.0450)" font-family='"Liberation Sans", sans-serif' font-weight="bold" font-style="normal" font-size="62.50" fill="#262626">100</text>
<text transform="translate(954.28,1913.40) scale(0.9850,1.0450)" font-family='"Liberation Sans", sans-serif' font-weight="bold" font-style="normal" font-size="62.50" fill="#262626">150</text>
<text transform="translate(1268.98,1913.40) scale(0.9850,1.0450)" font-family='"Liberation Sans", sans-serif' font-weight="bold" font-style="normal" font-size="62.50" fill="#262626">200</text>
<text transform="translate(1582.83,1913.40) scale(0.9850,1.0450)" font-family='"Liberation Sans", sans-serif' font-weight="bold" font-style="normal" font-size="62.50" fill="#262626">250</text>
<text transform="translate(1897.06,1913.40) scale(0.9850,1.0450)" font-family='"Liberation Sans", sans-serif' font-weight="bold" font-style="normal" font-size="62.50" fill="#262626">300</text>
<g>
<text transform="translate(1759.69,313.50) scale(1.2696,1.0000)" font-family='"Liberation Serif", serif' font-weight="normal" font-style="italic" font-size="76.81" fill="#231f20">n</text>
<text transform="translate(1807.11,312.18) scale(1.0000,1.0206)" font-family='"DejaVu Sans", sans-serif' font-weight="normal" font-style="normal" font-size="58.96" fill="#231f20">=</text>
<text transform="translate(1855.05,312.80) scale(1.1200,1.0200)" font-family='"Liberation Serif", serif' font-weight="normal" font-style="normal" font-size="62.50" fill="#231f20">2</text>
</g>
<g>
<text transform="translate(1755.59,415.50) scale(1.2696,1.0000)" font-family='"Liberation Serif", serif' font-weight="normal" font-style="italic" font-size="76.81" fill="#231f20">n</text>
<text transform="translate(1803.01,414.18) scale(1.0000,1.0206)" font-family='"DejaVu Sans", sans-serif' font-weight="normal" font-style="normal" font-size="58.96" fill="#231f20">=</text>
<text transform="translate(1854.97,414.80) scale(0.9379,1.0200)" font-family='"Liberation Serif", serif' font-weight="normal" font-style="normal" font-size="62.50" fill="#231f20">1.5</text>
</g>
<g>
<text transform="translate(1757.59,549.80) scale(1.2696,1.0000)" font-family='"Liberation Serif", serif' font-weight="normal" font-style="italic" font-size="76.81" fill="#231f20">n</text>
<text transform="translate(1805.01,548.48) scale(1.0000,1.0206)" font-family='"DejaVu Sans", sans-serif' font-weight="normal" font-style="normal" font-size="58.96" fill="#231f20">=</text>
<text transform="translate(1857.93,549.10) scale(0.7444,1.0200)" font-family='"Liberation Serif", serif' font-weight="normal" font-style="normal" font-size="62.50" fill="#231f20">1</text>
</g>
<g>
<text transform="translate(1760.79,732.80) scale(1.2696,1.0000)" font-family='"Liberation Serif", serif' font-weight="normal" font-style="italic" font-size="76.81" fill="#231f20">n</text>
<text transform="translate(1808.21,731.48) scale(1.0000,1.0206)" font-family='"DejaVu Sans", sans-serif' font-weight="normal" font-style="normal" font-size="58.96" fill="#231f20">=</text>
<text transform="translate(1856.45,732.10) scale(0.9593,1.0200)" font-family='"Liberation Serif", serif' font-weight="normal" font-style="normal" font-size="62.50" fill="#231f20">0.5</text>
</g>
<g>
<text transform="translate(1762.89,1044.30) scale(1.2696,1.0000)" font-family='"Liberation Serif", serif' font-weight="normal" font-style="italic" font-size="76.81" fill="#231f20">n</text>
<text transform="translate(1810.31,1042.98) scale(1.0000,1.0206)" font-family='"DejaVu Sans", sans-serif' font-weight="normal" font-style="normal" font-size="58.96" fill="#231f20">=</text>
<text transform="translate(1858.55,1043.60) scale(0.9593,1.0200)" font-family='"Liberation Serif", serif' font-weight="normal" font-style="normal" font-size="62.50" fill="#231f20">0.5</text>
</g>
<g>
<text transform="translate(1765.99,1238.00) scale(1.2696,1.0000)" font-family='"Liberation Serif", serif' font-weight="normal" font-style="italic" font-size="76.81" fill="#231f20">n</text>
<text transform="translate(1813.41,1236.68) scale(1.0000,1.0206)" font-family='"DejaVu Sans", sans-serif' font-weight="normal" font-style="normal" font-size="58.96" fill="#231f20">=</text>
<text transform="translate(1866.33,1237.30) scale(0.7444,1.0200)" font-family='"Liberation Serif", serif' font-weight="normal" font-style="normal" font-size="62.50" fill="#231f20">1</text>
</g>
<g>
<text transform="translate(1770.49,1369.80) scale(1.2696,1.0000)" font-family='"Liberation Serif", serif' font-weight="normal" font-style="italic" font-size="76.81" fill="#231f20">n</text>
<text transform="translate(1817.91,1368.48) scale(1.0000,1.0206)" font-family='"DejaVu Sans", sans-serif' font-weight="normal" font-style="normal" font-size="58.96" fill="#231f20">=</text>
<text transform="translate(1869.87,1369.10) scale(0.9379,1.0200)" font-family='"Liberation Serif", serif' font-weight="normal" font-style="normal" font-size="62.50" fill="#231f20">1.5</text>
</g>
<g>
<text transform="translate(1776.49,1466.10) scale(1.2696,1.0000)" font-family='"Liberation Serif", serif' font-weight="normal" font-style="italic" font-size="76.81" fill="#231f20">n</text>
<text transform="translate(1823.91,1464.78) scale(1.0000,1.0206)" font-family='"DejaVu Sans", sans-serif' font-weight="normal" font-style="normal" font-size="58.96" fill="#231f20">=</text>
<text transform="translate(1871.85,1465.40) scale(1.1200,1.0200)" font-family='"Liberation Serif", serif' font-weight="normal" font-style="normal" font-size="62.50" fill="#231f20">2</text>
</g>
<text transform="translate(88.20,489.38) rotate(-90) scale(1.1325,1)" font-family='"Liberation Serif", serif' font-weight="normal" font-style="italic" font-size="104.83" fill="#231f20">S</text>
<text transform="translate(87.90,427.12) rotate(-90) scale(1.0702,1)" font-family='"Liberation Serif", serif' font-weight="normal" font-style="italic" font-size="57.93" fill="#231f20">x</text>
<text transform="translate(118.10,1535.97) rotate(-90) scale(1.1252,1)" font-family='"Liberation Serif", serif' font-weight="normal" font-style="italic" font-size="104.75" fill="#231f20">S</text>
<text transform="translate(117.60,1473.64) rotate(-90) scale(1.0240,1)" font-family='"Liberation Serif", serif' font-weight="normal" font-style="italic" font-size="57.02" fill="#231f20">p</text>
<text transform="translate(1102.27,1999.66) scale(1.2943,1.0000)" font-family='"Liberation Serif", serif' font-weight="normal" font-style="italic" font-size="114.81" fill="#231f20">u</text>
</svg></body></html>
